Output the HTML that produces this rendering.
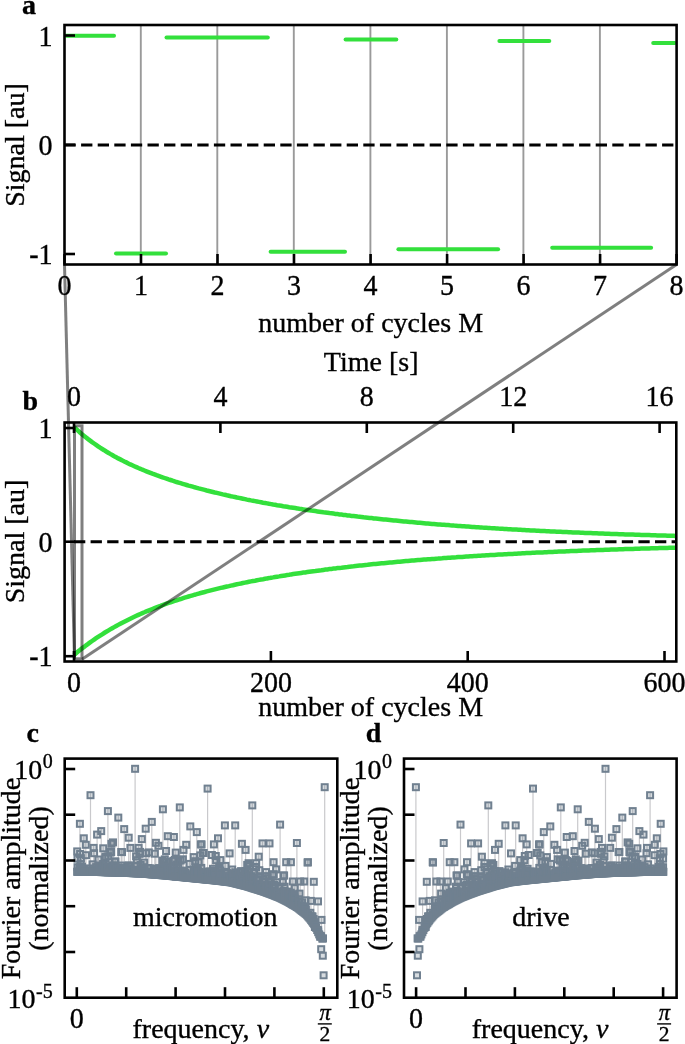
<!DOCTYPE html>
<html><head><meta charset="utf-8"><style>
html,body{margin:0;padding:0;background:#fff;overflow:hidden;width:685px;height:1044px;}
svg{display:block;font-family:"Liberation Serif", serif;will-change:transform;}
text{stroke:#000;stroke-width:0.35px;}
</style></head><body>
<svg width="685" height="1044" viewBox="0 0 685 1044">
<defs>
<clipPath id="clipb"><rect x="64.6" y="422.5" width="611.7" height="239.0"/></clipPath>
<rect id="mk" x="-3" y="-3" width="6" height="6" fill="#708090" fill-opacity="0.28" stroke="#708090" stroke-width="2"/>
</defs>
<rect width="685" height="1044" fill="#fff"/>
<line x1="140.8" y1="25.0" x2="140.8" y2="264.5" stroke="#9a9a9a" stroke-width="1.9" />
<line x1="217.3" y1="25.0" x2="217.3" y2="264.5" stroke="#9a9a9a" stroke-width="1.9" />
<line x1="293.8" y1="25.0" x2="293.8" y2="264.5" stroke="#9a9a9a" stroke-width="1.9" />
<line x1="370.4" y1="25.0" x2="370.4" y2="264.5" stroke="#9a9a9a" stroke-width="1.9" />
<line x1="446.9" y1="25.0" x2="446.9" y2="264.5" stroke="#9a9a9a" stroke-width="1.9" />
<line x1="523.4" y1="25.0" x2="523.4" y2="264.5" stroke="#9a9a9a" stroke-width="1.9" />
<line x1="599.9" y1="25.0" x2="599.9" y2="264.5" stroke="#9a9a9a" stroke-width="1.9" />
<line x1="66.3" y1="35.7" x2="114.0" y2="35.7" stroke="#33e03c" stroke-width="4" stroke-linecap="round"/>
<line x1="116.0" y1="253.4" x2="166.0" y2="253.4" stroke="#33e03c" stroke-width="4" stroke-linecap="round"/>
<line x1="166.5" y1="37.5" x2="267.8" y2="37.5" stroke="#33e03c" stroke-width="4" stroke-linecap="round"/>
<line x1="270.6" y1="251.8" x2="345.0" y2="251.8" stroke="#33e03c" stroke-width="4" stroke-linecap="round"/>
<line x1="345.6" y1="39.4" x2="396.3" y2="39.4" stroke="#33e03c" stroke-width="4" stroke-linecap="round"/>
<line x1="398.4" y1="249.3" x2="498.1" y2="249.3" stroke="#33e03c" stroke-width="4" stroke-linecap="round"/>
<line x1="499.4" y1="41.1" x2="549.3" y2="41.1" stroke="#33e03c" stroke-width="4" stroke-linecap="round"/>
<line x1="552.2" y1="247.8" x2="651.1" y2="247.8" stroke="#33e03c" stroke-width="4" stroke-linecap="round"/>
<line x1="653.2" y1="43.0" x2="674.8" y2="43.0" stroke="#33e03c" stroke-width="4" stroke-linecap="round"/>
<line x1="64.5" y1="144.9" x2="676.6" y2="144.9" stroke="#000" stroke-width="3" stroke-dasharray="11.3 5.3"/>
<line x1="64.5" y1="264.5" x2="64.5" y2="254.0" stroke="#000" stroke-width="2.6" />
<line x1="141.0" y1="264.5" x2="141.0" y2="254.0" stroke="#000" stroke-width="2.6" />
<line x1="217.5" y1="264.5" x2="217.5" y2="254.0" stroke="#000" stroke-width="2.6" />
<line x1="294.0" y1="264.5" x2="294.0" y2="254.0" stroke="#000" stroke-width="2.6" />
<line x1="370.6" y1="264.5" x2="370.6" y2="254.0" stroke="#000" stroke-width="2.6" />
<line x1="447.1" y1="264.5" x2="447.1" y2="254.0" stroke="#000" stroke-width="2.6" />
<line x1="523.6" y1="264.5" x2="523.6" y2="254.0" stroke="#000" stroke-width="2.6" />
<line x1="600.1" y1="264.5" x2="600.1" y2="254.0" stroke="#000" stroke-width="2.6" />
<line x1="676.6" y1="264.5" x2="676.6" y2="254.0" stroke="#000" stroke-width="2.6" />
<line x1="64.5" y1="35.5" x2="75.0" y2="35.5" stroke="#000" stroke-width="2.6" />
<line x1="64.5" y1="144.9" x2="75.0" y2="144.9" stroke="#000" stroke-width="2.6" />
<line x1="64.5" y1="254.0" x2="75.0" y2="254.0" stroke="#000" stroke-width="2.6" />
<rect x="64.5" y="25.0" width="612.1" height="239.5" fill="none" stroke="#000" stroke-width="2.6"/>
<text transform="translate(64.5,295.1) scale(1,1.04)" text-anchor="middle" font-size="28" >0</text>
<text transform="translate(141.0,295.1) scale(1,1.04)" text-anchor="middle" font-size="28" >1</text>
<text transform="translate(217.5,295.1) scale(1,1.04)" text-anchor="middle" font-size="28" >2</text>
<text transform="translate(294.0,295.1) scale(1,1.04)" text-anchor="middle" font-size="28" >3</text>
<text transform="translate(370.6,295.1) scale(1,1.04)" text-anchor="middle" font-size="28" >4</text>
<text transform="translate(447.1,295.1) scale(1,1.04)" text-anchor="middle" font-size="28" >5</text>
<text transform="translate(523.6,295.1) scale(1,1.04)" text-anchor="middle" font-size="28" >6</text>
<text transform="translate(600.1,295.1) scale(1,1.04)" text-anchor="middle" font-size="28" >7</text>
<text transform="translate(676.6,295.1) scale(1,1.04)" text-anchor="middle" font-size="28" >8</text>
<text transform="translate(52.5,45.5) scale(1,1.04)" text-anchor="end" font-size="28" >1</text>
<text transform="translate(52.5,154.9) scale(1,1.04)" text-anchor="end" font-size="28" >0</text>
<text transform="translate(52.5,264.0) scale(1,1.04)" text-anchor="end" font-size="28" >-1</text>
<text x="0.0" y="0.0" text-anchor="middle" font-size="28" transform="translate(24,145) rotate(-90)">Signal [au]</text>
<text x="370.7" y="332.0" text-anchor="middle" font-size="28" >number of cycles M</text>
<text x="22.0" y="13.5" text-anchor="start" font-size="28" font-weight="bold" >a</text>
<g clip-path="url(#clipb)">
<polyline points="74.0,427.1 76.0,428.9 78.0,430.7 80.0,432.5 82.0,434.2 84.1,435.9 86.1,437.5 88.1,439.1 90.1,440.6 92.1,442.1 94.1,443.5 96.1,444.9 98.1,446.3 100.1,447.7 102.2,449.0 104.2,450.2 106.2,451.5 108.2,452.7 110.2,453.9 112.2,455.0 114.2,456.2 116.2,457.3 118.2,458.4 120.3,459.4 122.3,460.4 124.3,461.5 126.3,462.4 128.3,463.4 130.3,464.4 132.3,465.3 134.3,466.2 136.4,467.1 138.4,468.0 140.4,468.8 142.4,469.7 144.4,470.5 146.4,471.3 148.4,472.1 150.4,472.9 152.4,473.7 154.5,474.4 156.5,475.2 158.5,475.9 160.5,476.6 162.5,477.3 164.5,478.0 166.5,478.7 168.5,479.4 170.5,480.0 172.6,480.7 174.6,481.3 176.6,482.0 178.6,482.6 180.6,483.2 182.6,483.8 184.6,484.4 186.6,485.0 188.6,485.6 190.7,486.1 192.7,486.7 194.7,487.3 196.7,487.8 198.7,488.4 200.7,488.9 202.7,489.4 204.7,489.9 206.7,490.5 208.8,491.0 210.8,491.5 212.8,492.0 214.8,492.5 216.8,492.9 218.8,493.4 220.8,493.9 222.8,494.4 224.8,494.8 226.9,495.3 228.9,495.7 230.9,496.2 232.9,496.6 234.9,497.0 236.9,497.5 238.9,497.9 240.9,498.3 242.9,498.7 245.0,499.1 247.0,499.6 249.0,500.0 251.0,500.4 253.0,500.7 255.0,501.1 257.0,501.5 259.0,501.9 261.1,502.3 263.1,502.7 265.1,503.0 267.1,503.4 269.1,503.8 271.1,504.1 273.1,504.5 275.1,504.8 277.1,505.2 279.2,505.5 281.2,505.8 283.2,506.2 285.2,506.5 287.2,506.8 289.2,507.2 291.2,507.5 293.2,507.8 295.2,508.1 297.3,508.4 299.3,508.8 301.3,509.1 303.3,509.4 305.3,509.7 307.3,510.0 309.3,510.3 311.3,510.6 313.3,510.8 315.4,511.1 317.4,511.4 319.4,511.7 321.4,512.0 323.4,512.3 325.4,512.5 327.4,512.8 329.4,513.1 331.4,513.3 333.5,513.6 335.5,513.9 337.5,514.1 339.5,514.4 341.5,514.6 343.5,514.9 345.5,515.1 347.5,515.4 349.5,515.6 351.6,515.9 353.6,516.1 355.6,516.3 357.6,516.6 359.6,516.8 361.6,517.0 363.6,517.3 365.6,517.5 367.6,517.7 369.7,517.9 371.7,518.1 373.7,518.4 375.7,518.6 377.7,518.8 379.7,519.0 381.7,519.2 383.7,519.4 385.8,519.6 387.8,519.8 389.8,520.0 391.8,520.2 393.8,520.4 395.8,520.6 397.8,520.8 399.8,521.0 401.8,521.2 403.9,521.4 405.9,521.6 407.9,521.8 409.9,522.0 411.9,522.1 413.9,522.3 415.9,522.5 417.9,522.7 419.9,522.8 422.0,523.0 424.0,523.2 426.0,523.4 428.0,523.5 430.0,523.7 432.0,523.9 434.0,524.0 436.0,524.2 438.0,524.4 440.1,524.5 442.1,524.7 444.1,524.8 446.1,525.0 448.1,525.1 450.1,525.3 452.1,525.4 454.1,525.6 456.1,525.7 458.2,525.9 460.2,526.0 462.2,526.2 464.2,526.3 466.2,526.5 468.2,526.6 470.2,526.7 472.2,526.9 474.2,527.0 476.3,527.2 478.3,527.3 480.3,527.4 482.3,527.6 484.3,527.7 486.3,527.8 488.3,527.9 490.3,528.1 492.3,528.2 494.4,528.3 496.4,528.4 498.4,528.6 500.4,528.7 502.4,528.8 504.4,528.9 506.4,529.0 508.4,529.2 510.5,529.3 512.5,529.4 514.5,529.5 516.5,529.6 518.5,529.7 520.5,529.8 522.5,529.9 524.5,530.0 526.5,530.2 528.6,530.3 530.6,530.4 532.6,530.5 534.6,530.6 536.6,530.7 538.6,530.8 540.6,530.9 542.6,531.0 544.6,531.1 546.7,531.2 548.7,531.3 550.7,531.4 552.7,531.5 554.7,531.6 556.7,531.7 558.7,531.7 560.7,531.8 562.7,531.9 564.8,532.0 566.8,532.1 568.8,532.2 570.8,532.3 572.8,532.4 574.8,532.5 576.8,532.5 578.8,532.6 580.8,532.7 582.9,532.8 584.9,532.9 586.9,533.0 588.9,533.0 590.9,533.1 592.9,533.2 594.9,533.3 596.9,533.3 598.9,533.4 601.0,533.5 603.0,533.6 605.0,533.7 607.0,533.7 609.0,533.8 611.0,533.9 613.0,533.9 615.0,534.0 617.0,534.1 619.1,534.2 621.1,534.2 623.1,534.3 625.1,534.4 627.1,534.4 629.1,534.5 631.1,534.6 633.1,534.6 635.2,534.7 637.2,534.8 639.2,534.8 641.2,534.9 643.2,535.0 645.2,535.0 647.2,535.1 649.2,535.1 651.2,535.2 653.3,535.3 655.3,535.3 657.3,535.4 659.3,535.4 661.3,535.5 663.3,535.5 665.3,535.6 667.3,535.7 669.3,535.7 671.4,535.8 673.4,535.8 675.4,535.9" fill="none" stroke="#33e03c" stroke-width="4.5"/>
<polyline points="74.0,655.0 76.0,653.3 78.0,651.6 80.0,650.0 82.0,648.4 84.1,646.9 86.1,645.3 88.1,643.9 90.1,642.4 92.1,641.0 94.1,639.6 96.1,638.2 98.1,636.9 100.1,635.6 102.2,634.3 104.2,633.0 106.2,631.8 108.2,630.6 110.2,629.4 112.2,628.2 114.2,627.1 116.2,626.0 118.2,624.9 120.3,623.8 122.3,622.7 124.3,621.7 126.3,620.7 128.3,619.7 130.3,618.7 132.3,617.7 134.3,616.8 136.4,615.8 138.4,614.9 140.4,614.0 142.4,613.1 144.4,612.3 146.4,611.4 148.4,610.6 150.4,609.8 152.4,609.0 154.5,608.2 156.5,607.4 158.5,606.6 160.5,605.9 162.5,605.1 164.5,604.4 166.5,603.7 168.5,603.0 170.5,602.3 172.6,601.6 174.6,600.9 176.6,600.3 178.6,599.6 180.6,599.0 182.6,598.3 184.6,597.7 186.6,597.1 188.6,596.5 190.7,595.9 192.7,595.3 194.7,594.7 196.7,594.2 198.7,593.6 200.7,593.0 202.7,592.5 204.7,592.0 206.7,591.4 208.8,590.9 210.8,590.4 212.8,589.9 214.8,589.4 216.8,588.9 218.8,588.4 220.8,587.9 222.8,587.5 224.8,587.0 226.9,586.5 228.9,586.1 230.9,585.6 232.9,585.2 234.9,584.7 236.9,584.3 238.9,583.9 240.9,583.5 242.9,583.0 245.0,582.6 247.0,582.2 249.0,581.8 251.0,581.4 253.0,581.0 255.0,580.7 257.0,580.3 259.0,579.9 261.1,579.5 263.1,579.2 265.1,578.8 267.1,578.4 269.1,578.1 271.1,577.7 273.1,577.4 275.1,577.0 277.1,576.7 279.2,576.4 281.2,576.0 283.2,575.7 285.2,575.4 287.2,575.1 289.2,574.8 291.2,574.4 293.2,574.1 295.2,573.8 297.3,573.5 299.3,573.2 301.3,572.9 303.3,572.6 305.3,572.4 307.3,572.1 309.3,571.8 311.3,571.5 313.3,571.2 315.4,571.0 317.4,570.7 319.4,570.4 321.4,570.2 323.4,569.9 325.4,569.6 327.4,569.4 329.4,569.1 331.4,568.9 333.5,568.6 335.5,568.4 337.5,568.1 339.5,567.9 341.5,567.7 343.5,567.4 345.5,567.2 347.5,567.0 349.5,566.7 351.6,566.5 353.6,566.3 355.6,566.0 357.6,565.8 359.6,565.6 361.6,565.4 363.6,565.2 365.6,565.0 367.6,564.8 369.7,564.5 371.7,564.3 373.7,564.1 375.7,563.9 377.7,563.7 379.7,563.5 381.7,563.3 383.7,563.2 385.8,563.0 387.8,562.8 389.8,562.6 391.8,562.4 393.8,562.2 395.8,562.0 397.8,561.8 399.8,561.7 401.8,561.5 403.9,561.3 405.9,561.1 407.9,561.0 409.9,560.8 411.9,560.6 413.9,560.5 415.9,560.3 417.9,560.1 419.9,560.0 422.0,559.8 424.0,559.6 426.0,559.5 428.0,559.3 430.0,559.2 432.0,559.0 434.0,558.9 436.0,558.7 438.0,558.6 440.1,558.4 442.1,558.3 444.1,558.1 446.1,558.0 448.1,557.8 450.1,557.7 452.1,557.5 454.1,557.4 456.1,557.3 458.2,557.1 460.2,557.0 462.2,556.9 464.2,556.7 466.2,556.6 468.2,556.5 470.2,556.3 472.2,556.2 474.2,556.1 476.3,556.0 478.3,555.8 480.3,555.7 482.3,555.6 484.3,555.5 486.3,555.3 488.3,555.2 490.3,555.1 492.3,555.0 494.4,554.9 496.4,554.7 498.4,554.6 500.4,554.5 502.4,554.4 504.4,554.3 506.4,554.2 508.4,554.1 510.5,554.0 512.5,553.9 514.5,553.8 516.5,553.7 518.5,553.5 520.5,553.4 522.5,553.3 524.5,553.2 526.5,553.1 528.6,553.0 530.6,552.9 532.6,552.8 534.6,552.7 536.6,552.6 538.6,552.6 540.6,552.5 542.6,552.4 544.6,552.3 546.7,552.2 548.7,552.1 550.7,552.0 552.7,551.9 554.7,551.8 556.7,551.7 558.7,551.6 560.7,551.6 562.7,551.5 564.8,551.4 566.8,551.3 568.8,551.2 570.8,551.1 572.8,551.0 574.8,551.0 576.8,550.9 578.8,550.8 580.8,550.7 582.9,550.6 584.9,550.6 586.9,550.5 588.9,550.4 590.9,550.3 592.9,550.3 594.9,550.2 596.9,550.1 598.9,550.0 601.0,550.0 603.0,549.9 605.0,549.8 607.0,549.8 609.0,549.7 611.0,549.6 613.0,549.5 615.0,549.5 617.0,549.4 619.1,549.3 621.1,549.3 623.1,549.2 625.1,549.1 627.1,549.1 629.1,549.0 631.1,549.0 633.1,548.9 635.2,548.8 637.2,548.8 639.2,548.7 641.2,548.6 643.2,548.6 645.2,548.5 647.2,548.5 649.2,548.4 651.2,548.3 653.3,548.3 655.3,548.2 657.3,548.2 659.3,548.1 661.3,548.1 663.3,548.0 665.3,548.0 667.3,547.9 669.3,547.8 671.4,547.8 673.4,547.7 675.4,547.7" fill="none" stroke="#33e03c" stroke-width="4.5"/>
</g>
<line x1="74.0" y1="541.7" x2="676.3" y2="541.7" stroke="#000" stroke-width="3" stroke-dasharray="11.3 5.3"/>
<line x1="74.0" y1="422.5" x2="74.0" y2="433.0" stroke="#000" stroke-width="2.6" />
<line x1="220.4" y1="422.5" x2="220.4" y2="433.0" stroke="#000" stroke-width="2.6" />
<line x1="366.8" y1="422.5" x2="366.8" y2="433.0" stroke="#000" stroke-width="2.6" />
<line x1="513.2" y1="422.5" x2="513.2" y2="433.0" stroke="#000" stroke-width="2.6" />
<line x1="659.6" y1="422.5" x2="659.6" y2="433.0" stroke="#000" stroke-width="2.6" />
<line x1="74.0" y1="661.5" x2="74.0" y2="651.0" stroke="#000" stroke-width="2.6" />
<line x1="270.9" y1="661.5" x2="270.9" y2="651.0" stroke="#000" stroke-width="2.6" />
<line x1="467.7" y1="661.5" x2="467.7" y2="651.0" stroke="#000" stroke-width="2.6" />
<line x1="664.5" y1="661.5" x2="664.5" y2="651.0" stroke="#000" stroke-width="2.6" />
<line x1="64.6" y1="428.0" x2="75.1" y2="428.0" stroke="#000" stroke-width="2.6" />
<line x1="64.6" y1="541.7" x2="75.1" y2="541.7" stroke="#000" stroke-width="2.6" />
<line x1="64.6" y1="656.2" x2="75.1" y2="656.2" stroke="#000" stroke-width="2.6" />
<rect x="64.6" y="422.5" width="611.7" height="239.0" fill="none" stroke="#000" stroke-width="2.6"/>
<rect x="74.5" y="425.8" width="7.5" height="233" fill="none" stroke="#000" stroke-opacity="0.5" stroke-width="3"/>
<line x1="64.5" y1="264.5" x2="74.5" y2="659.3" stroke="#000" stroke-width="3" stroke-opacity="0.5"/>
<line x1="676.6" y1="264.5" x2="82.0" y2="659.3" stroke="#000" stroke-width="3" stroke-opacity="0.5"/>
<text transform="translate(74.0,405.8) scale(1,1.04)" text-anchor="middle" font-size="28" >0</text>
<text transform="translate(220.4,405.8) scale(1,1.04)" text-anchor="middle" font-size="28" >4</text>
<text transform="translate(366.8,405.8) scale(1,1.04)" text-anchor="middle" font-size="28" >8</text>
<text transform="translate(513.2,405.8) scale(1,1.04)" text-anchor="middle" font-size="28" >12</text>
<text transform="translate(659.6,405.8) scale(1,1.04)" text-anchor="middle" font-size="28" >16</text>
<text transform="translate(74.0,692.3) scale(1,1.04)" text-anchor="middle" font-size="28" >0</text>
<text transform="translate(270.9,692.3) scale(1,1.04)" text-anchor="middle" font-size="28" >200</text>
<text transform="translate(467.7,692.3) scale(1,1.04)" text-anchor="middle" font-size="28" >400</text>
<text transform="translate(664.5,692.3) scale(1,1.04)" text-anchor="middle" font-size="28" >600</text>
<text transform="translate(52.5,438.0) scale(1,1.04)" text-anchor="end" font-size="28" >1</text>
<text transform="translate(52.5,551.7) scale(1,1.04)" text-anchor="end" font-size="28" >0</text>
<text transform="translate(52.5,666.2) scale(1,1.04)" text-anchor="end" font-size="28" >-1</text>
<text x="0.0" y="0.0" text-anchor="middle" font-size="28" transform="translate(24,541.5) rotate(-90)">Signal [au]</text>
<text x="370.7" y="716.3" text-anchor="middle" font-size="28" >number of cycles M</text>
<text x="371.2" y="370.8" text-anchor="middle" font-size="28" >Time [s]</text>
<text x="22.5" y="410.1" text-anchor="start" font-size="28" font-weight="bold" >b</text>
<path d="M77.2 849.4V872.0M77.5 856.7V872.0M79.9 821.8V872.0M80.1 852.0V872.0M80.7 862.3V872.0M80.9 856.2V872.0M83.8 836.3V872.0M85.8 842.8V872.0M86.0 853.2V872.0M90.5 793.2V872.0M92.5 862.3V872.0M93.6 845.9V872.1M94.1 851.2V872.1M97.1 832.6V872.2M98.4 857.5V872.2M101.2 829.1V872.3M102.7 864.2V872.3M103.1 862.0V872.3M103.2 846.3V872.4M105.3 864.1V872.4M105.4 854.8V872.4M105.6 856.2V872.4M107.9 809.1V872.5M108.2 854.2V872.5M110.5 850.3V872.6M110.6 850.3V872.6M111.2 850.0V872.6M111.4 841.8V872.6M112.9 863.5V872.6M113.0 840.4V872.6M113.1 863.6V872.6M113.4 864.3V872.6M114.9 859.6V872.7M115.5 859.5V872.7M118.3 815.6V872.8M121.2 863.5V872.9M121.2 850.0V872.9M122.0 850.1V873.0M124.2 827.1V873.0M128.7 835.7V873.2M128.9 863.3V873.2M129.3 864.3V873.3M130.4 845.9V873.3M135.1 766.8V873.5M136.1 854.3V873.5M136.7 864.1V873.5M136.9 858.2V873.6M138.6 845.9V873.6M139.5 851.8V873.7M140.1 849.9V873.7M140.6 862.9V873.7M141.8 837.1V873.8M143.1 865.2V873.9M144.2 860.6V874.0M145.7 826.7V874.1M146.2 851.3V874.2M148.6 866.0V874.4M148.8 850.4V874.4M151.8 819.9V874.6M154.8 851.7V874.9M155.9 840.8V874.9M156.9 866.6V875.0M158.4 843.8V875.1M159.2 866.1V875.2M162.4 858.6V875.5M162.9 807.3V875.5M163.8 859.8V875.6M164.8 857.4V875.7M166.1 849.0V875.8M166.2 859.9V875.8M167.0 864.8V875.9M167.2 867.1V875.9M167.8 834.2V876.0M170.4 866.1V876.2M173.0 866.0V876.5M173.3 858.9V876.5M173.9 835.0V876.6M174.2 864.6V876.6M174.6 868.5V876.6M174.8 858.0V876.7M175.7 850.6V876.7M176.5 862.7V876.8M178.3 866.1V877.0M178.4 858.7V877.0M179.8 805.4V877.2M180.7 858.5V877.3M182.8 868.6V877.5M182.9 857.3V877.5M183.1 869.1V877.5M183.5 847.9V877.5M186.2 842.8V877.8M189.6 861.9V878.2M190.3 824.4V878.2M190.3 868.1V878.2M193.7 855.1V878.6M194.0 867.6V878.6M194.1 868.4V878.6M194.7 868.7V878.7M195.2 859.2V878.7M195.5 870.0V878.7M196.8 830.1V878.9M197.4 867.2V878.9M197.4 866.8V878.9M197.9 869.3V879.0M197.9 869.7V879.0M198.7 860.5V879.1M198.8 870.7V879.1M199.5 870.0V879.1M200.3 853.4V879.2M200.9 842.4V879.3M201.3 865.9V879.3M201.6 842.4V879.4M202.9 851.0V879.5M203.1 870.6V879.5M203.7 851.0V879.6M204.7 871.3V879.7M207.6 786.6V880.0M208.2 869.5V880.0M208.4 870.3V880.0M210.1 869.6V880.2M210.6 870.4V880.3M211.9 853.0V880.4M212.4 870.3V880.5M213.0 866.8V880.5M213.9 842.4V880.6M214.0 868.9V880.6M214.3 871.6V880.6M214.4 871.1V880.7M214.9 869.0V880.7M215.8 854.0V880.8M216.1 858.2V880.8M218.0 836.3V881.1M219.1 868.0V881.2M219.2 866.0V881.2M220.3 868.6V881.3M220.4 858.1V881.4M220.6 870.3V881.4M221.0 873.3V881.4M224.9 823.4V881.9M225.2 870.3V881.9M225.5 863.9V882.0M226.6 871.1V882.1M227.1 871.3V882.2M229.3 874.3V882.4M229.6 851.4V882.5M232.2 867.5V883.1M232.9 873.2V883.2M233.2 871.6V883.3M235.2 823.4V883.8M235.3 870.3V883.8M236.2 871.6V884.0M237.5 873.6V884.4M237.6 873.3V884.4M238.9 870.8V884.7M239.0 876.0V884.8M239.7 875.2V884.9M240.4 874.6V885.1M241.1 869.1V885.3M241.9 841.8V885.5M243.0 876.9V885.7M244.5 871.6V886.1M245.6 847.9V886.4M245.8 869.1V886.4M247.2 862.9V886.9M247.2 875.1V886.9M248.6 861.2V887.3M248.8 873.2V887.4M248.9 870.3V887.4M249.3 876.6V887.5M249.4 864.1V887.6M249.6 874.6V887.6M251.1 874.2V888.1M252.3 803.4V888.5M252.9 879.4V888.7M253.3 876.9V888.8M253.8 869.8V888.9M254.2 870.9V889.1M256.0 865.0V889.6M256.2 861.2V889.7M257.1 878.0V890.0M257.9 878.4V890.2M258.6 877.3V890.4M258.7 854.7V890.5M259.3 868.2V890.6M259.3 875.7V890.7M262.5 841.4V891.7M263.8 877.9V892.1M264.7 879.7V892.5M265.6 874.1V892.8M265.7 882.5V892.9M266.0 870.1V893.0M266.8 885.2V893.2M268.8 879.7V894.0M269.1 880.5V894.1M269.5 841.4V894.2M272.7 872.8V895.5M272.7 882.7V895.5M273.6 860.2V895.8M273.8 872.2V895.9M274.2 882.8V896.1M274.9 884.0V896.3M276.1 867.4V896.8M276.8 880.2V897.1M279.5 884.9V898.3M280.1 822.6V898.6M282.5 889.5V899.8M282.8 880.2V899.9M283.5 873.5V900.3M283.8 889.5V900.4M284.1 873.5V900.6M284.3 889.0V900.7M284.6 884.7V900.8M285.0 891.6V901.0M286.2 860.2V901.6M286.3 891.0V901.7M286.5 890.1V901.8M288.4 889.6V902.9M289.6 892.2V903.5M290.8 890.7V904.3M290.9 860.2V904.3M291.4 895.2V904.6M292.4 894.0V905.2M292.8 879.5V905.4M292.9 894.1V905.5M294.6 895.5V906.5M294.8 886.2V906.6M294.8 894.0V906.6M296.9 841.0V908.0M298.8 899.4V909.4M298.9 897.4V909.6M299.2 900.2V909.8M299.5 891.6V910.0M300.2 879.5V910.5M301.8 903.6V911.8M302.1 900.5V912.0M304.2 879.5V913.7M304.3 905.3V913.7M305.6 898.3V915.0M305.6 905.4V915.0M307.6 860.5V917.3M307.9 860.2V917.6M310.3 910.8V920.6M310.9 898.9V921.4M312.3 914.3V923.4M312.4 914.7V923.6M313.6 917.0V925.2M313.8 879.8V925.5M318.0 899.4V934.6M321.5 917.9V941.0M324.7 785.2V941.0" stroke="#c9c9cc" stroke-width="1.2" fill="none"/>
<use href="#mk" x="77.2" y="851.4"/><use href="#mk" x="77.2" y="871.8"/><use href="#mk" x="77.5" y="867.2"/><use href="#mk" x="77.5" y="858.7"/><use href="#mk" x="77.6" y="871.8"/><use href="#mk" x="78.2" y="871.8"/><use href="#mk" x="79.2" y="871.8"/><use href="#mk" x="79.4" y="868.2"/><use href="#mk" x="79.9" y="823.8"/><use href="#mk" x="80.1" y="854.0"/><use href="#mk" x="80.2" y="866.8"/><use href="#mk" x="80.2" y="870.3"/><use href="#mk" x="80.2" y="871.8"/><use href="#mk" x="80.7" y="864.3"/><use href="#mk" x="80.9" y="858.2"/><use href="#mk" x="81.2" y="871.8"/><use href="#mk" x="82.0" y="866.7"/><use href="#mk" x="82.2" y="871.8"/><use href="#mk" x="82.4" y="870.9"/><use href="#mk" x="83.2" y="871.8"/><use href="#mk" x="83.8" y="869.4"/><use href="#mk" x="83.8" y="838.3"/><use href="#mk" x="84.2" y="871.8"/><use href="#mk" x="84.6" y="871.6"/><use href="#mk" x="85.2" y="871.8"/><use href="#mk" x="85.8" y="844.8"/><use href="#mk" x="86.0" y="855.2"/><use href="#mk" x="86.2" y="871.8"/><use href="#mk" x="87.2" y="871.8"/><use href="#mk" x="88.2" y="871.8"/><use href="#mk" x="89.2" y="871.8"/><use href="#mk" x="89.8" y="868.4"/><use href="#mk" x="90.1" y="870.6"/><use href="#mk" x="90.2" y="871.8"/><use href="#mk" x="90.4" y="870.4"/><use href="#mk" x="90.5" y="795.2"/><use href="#mk" x="91.2" y="871.8"/><use href="#mk" x="92.2" y="871.8"/><use href="#mk" x="92.5" y="864.3"/><use href="#mk" x="92.8" y="871.4"/><use href="#mk" x="92.9" y="871.6"/><use href="#mk" x="93.2" y="871.8"/><use href="#mk" x="93.6" y="847.9"/><use href="#mk" x="94.1" y="853.2"/><use href="#mk" x="94.2" y="871.9"/><use href="#mk" x="95.2" y="871.9"/><use href="#mk" x="96.2" y="867.1"/><use href="#mk" x="96.2" y="871.9"/><use href="#mk" x="97.1" y="834.6"/><use href="#mk" x="97.2" y="871.9"/><use href="#mk" x="97.9" y="869.9"/><use href="#mk" x="98.1" y="868.3"/><use href="#mk" x="98.2" y="872.0"/><use href="#mk" x="98.4" y="859.5"/><use href="#mk" x="98.7" y="867.0"/><use href="#mk" x="99.2" y="872.0"/><use href="#mk" x="99.3" y="870.4"/><use href="#mk" x="99.9" y="868.2"/><use href="#mk" x="100.1" y="872.0"/><use href="#mk" x="100.2" y="872.0"/><use href="#mk" x="101.2" y="831.1"/><use href="#mk" x="101.2" y="872.1"/><use href="#mk" x="102.1" y="867.1"/><use href="#mk" x="102.2" y="872.1"/><use href="#mk" x="102.7" y="866.2"/><use href="#mk" x="103.1" y="864.0"/><use href="#mk" x="103.2" y="848.3"/><use href="#mk" x="103.2" y="872.1"/><use href="#mk" x="104.2" y="872.1"/><use href="#mk" x="104.9" y="869.4"/><use href="#mk" x="105.2" y="872.2"/><use href="#mk" x="105.3" y="866.1"/><use href="#mk" x="105.4" y="856.8"/><use href="#mk" x="105.6" y="858.2"/><use href="#mk" x="106.2" y="872.2"/><use href="#mk" x="107.2" y="872.2"/><use href="#mk" x="107.8" y="870.2"/><use href="#mk" x="107.9" y="811.1"/><use href="#mk" x="107.9" y="867.5"/><use href="#mk" x="108.1" y="872.1"/><use href="#mk" x="108.2" y="872.3"/><use href="#mk" x="108.2" y="856.2"/><use href="#mk" x="109.2" y="872.3"/><use href="#mk" x="110.0" y="871.8"/><use href="#mk" x="110.2" y="872.3"/><use href="#mk" x="110.3" y="869.5"/><use href="#mk" x="110.3" y="868.6"/><use href="#mk" x="110.5" y="852.3"/><use href="#mk" x="110.6" y="852.3"/><use href="#mk" x="111.2" y="867.7"/><use href="#mk" x="111.2" y="852.0"/><use href="#mk" x="111.2" y="872.3"/><use href="#mk" x="111.4" y="843.8"/><use href="#mk" x="112.2" y="872.4"/><use href="#mk" x="112.2" y="870.2"/><use href="#mk" x="112.9" y="865.5"/><use href="#mk" x="113.0" y="842.4"/><use href="#mk" x="113.1" y="865.6"/><use href="#mk" x="113.2" y="872.4"/><use href="#mk" x="113.4" y="866.3"/><use href="#mk" x="114.2" y="872.4"/><use href="#mk" x="114.9" y="861.6"/><use href="#mk" x="115.2" y="872.5"/><use href="#mk" x="115.5" y="861.5"/><use href="#mk" x="116.1" y="870.8"/><use href="#mk" x="116.2" y="872.5"/><use href="#mk" x="116.2" y="871.6"/><use href="#mk" x="116.6" y="868.7"/><use href="#mk" x="117.2" y="872.5"/><use href="#mk" x="118.2" y="871.6"/><use href="#mk" x="118.2" y="872.6"/><use href="#mk" x="118.3" y="817.6"/><use href="#mk" x="118.4" y="867.4"/><use href="#mk" x="118.4" y="868.6"/><use href="#mk" x="119.2" y="872.6"/><use href="#mk" x="119.6" y="872.3"/><use href="#mk" x="120.2" y="872.6"/><use href="#mk" x="121.2" y="865.5"/><use href="#mk" x="121.2" y="852.0"/><use href="#mk" x="121.2" y="872.7"/><use href="#mk" x="122.0" y="852.1"/><use href="#mk" x="122.2" y="872.7"/><use href="#mk" x="122.9" y="869.2"/><use href="#mk" x="123.2" y="872.8"/><use href="#mk" x="123.6" y="869.2"/><use href="#mk" x="124.2" y="829.1"/><use href="#mk" x="124.2" y="872.8"/><use href="#mk" x="124.4" y="871.9"/><use href="#mk" x="125.1" y="872.3"/><use href="#mk" x="125.2" y="872.8"/><use href="#mk" x="125.3" y="868.3"/><use href="#mk" x="125.5" y="868.1"/><use href="#mk" x="125.6" y="871.4"/><use href="#mk" x="126.0" y="868.9"/><use href="#mk" x="126.2" y="872.9"/><use href="#mk" x="127.2" y="872.9"/><use href="#mk" x="127.2" y="871.3"/><use href="#mk" x="127.4" y="868.4"/><use href="#mk" x="127.7" y="872.6"/><use href="#mk" x="128.2" y="873.0"/><use href="#mk" x="128.3" y="871.3"/><use href="#mk" x="128.7" y="837.7"/><use href="#mk" x="128.9" y="865.3"/><use href="#mk" x="129.0" y="872.8"/><use href="#mk" x="129.2" y="873.0"/><use href="#mk" x="129.3" y="866.3"/><use href="#mk" x="129.3" y="872.3"/><use href="#mk" x="130.2" y="873.0"/><use href="#mk" x="130.4" y="847.9"/><use href="#mk" x="130.5" y="868.5"/><use href="#mk" x="131.2" y="873.1"/><use href="#mk" x="132.1" y="872.8"/><use href="#mk" x="132.2" y="873.1"/><use href="#mk" x="133.2" y="873.2"/><use href="#mk" x="134.2" y="873.2"/><use href="#mk" x="134.9" y="869.8"/><use href="#mk" x="134.9" y="870.5"/><use href="#mk" x="134.9" y="871.4"/><use href="#mk" x="135.1" y="768.8"/><use href="#mk" x="135.2" y="873.2"/><use href="#mk" x="136.1" y="856.3"/><use href="#mk" x="136.2" y="873.3"/><use href="#mk" x="136.7" y="866.1"/><use href="#mk" x="136.9" y="860.2"/><use href="#mk" x="137.2" y="873.3"/><use href="#mk" x="138.2" y="873.4"/><use href="#mk" x="138.6" y="847.9"/><use href="#mk" x="139.1" y="872.5"/><use href="#mk" x="139.2" y="873.4"/><use href="#mk" x="139.5" y="853.8"/><use href="#mk" x="140.1" y="851.9"/><use href="#mk" x="140.2" y="873.4"/><use href="#mk" x="140.6" y="864.9"/><use href="#mk" x="141.0" y="869.5"/><use href="#mk" x="141.2" y="873.5"/><use href="#mk" x="141.8" y="839.1"/><use href="#mk" x="141.8" y="871.4"/><use href="#mk" x="142.1" y="868.3"/><use href="#mk" x="142.2" y="873.5"/><use href="#mk" x="143.1" y="867.2"/><use href="#mk" x="143.2" y="873.6"/><use href="#mk" x="144.2" y="873.7"/><use href="#mk" x="144.2" y="862.6"/><use href="#mk" x="144.3" y="869.7"/><use href="#mk" x="145.2" y="873.8"/><use href="#mk" x="145.4" y="873.4"/><use href="#mk" x="145.5" y="871.7"/><use href="#mk" x="145.7" y="828.7"/><use href="#mk" x="146.2" y="853.3"/><use href="#mk" x="146.2" y="873.9"/><use href="#mk" x="146.5" y="873.5"/><use href="#mk" x="147.2" y="873.9"/><use href="#mk" x="148.2" y="874.0"/><use href="#mk" x="148.4" y="873.5"/><use href="#mk" x="148.6" y="868.0"/><use href="#mk" x="148.8" y="852.4"/><use href="#mk" x="149.2" y="874.1"/><use href="#mk" x="149.5" y="873.7"/><use href="#mk" x="149.9" y="871.6"/><use href="#mk" x="150.0" y="868.5"/><use href="#mk" x="150.2" y="874.2"/><use href="#mk" x="151.2" y="874.3"/><use href="#mk" x="151.8" y="821.9"/><use href="#mk" x="152.2" y="874.4"/><use href="#mk" x="152.4" y="873.9"/><use href="#mk" x="153.2" y="874.4"/><use href="#mk" x="153.7" y="869.1"/><use href="#mk" x="154.2" y="874.5"/><use href="#mk" x="154.7" y="872.8"/><use href="#mk" x="154.8" y="853.7"/><use href="#mk" x="155.2" y="874.6"/><use href="#mk" x="155.9" y="842.8"/><use href="#mk" x="156.2" y="873.7"/><use href="#mk" x="156.2" y="874.7"/><use href="#mk" x="156.9" y="868.6"/><use href="#mk" x="157.2" y="874.8"/><use href="#mk" x="158.2" y="874.8"/><use href="#mk" x="158.4" y="869.9"/><use href="#mk" x="158.4" y="845.8"/><use href="#mk" x="159.2" y="874.9"/><use href="#mk" x="159.2" y="868.1"/><use href="#mk" x="160.0" y="871.7"/><use href="#mk" x="160.2" y="871.7"/><use href="#mk" x="160.2" y="875.0"/><use href="#mk" x="160.8" y="871.8"/><use href="#mk" x="161.2" y="875.1"/><use href="#mk" x="162.0" y="873.8"/><use href="#mk" x="162.2" y="875.2"/><use href="#mk" x="162.3" y="873.2"/><use href="#mk" x="162.4" y="860.6"/><use href="#mk" x="162.9" y="809.3"/><use href="#mk" x="163.2" y="875.2"/><use href="#mk" x="163.3" y="875.1"/><use href="#mk" x="163.8" y="861.8"/><use href="#mk" x="164.1" y="874.8"/><use href="#mk" x="164.2" y="875.3"/><use href="#mk" x="164.8" y="859.4"/><use href="#mk" x="165.2" y="875.4"/><use href="#mk" x="166.1" y="851.0"/><use href="#mk" x="166.2" y="861.9"/><use href="#mk" x="166.2" y="875.5"/><use href="#mk" x="167.0" y="866.8"/><use href="#mk" x="167.2" y="875.6"/><use href="#mk" x="167.2" y="869.1"/><use href="#mk" x="167.8" y="836.2"/><use href="#mk" x="167.9" y="870.7"/><use href="#mk" x="168.2" y="875.7"/><use href="#mk" x="168.4" y="872.0"/><use href="#mk" x="169.2" y="875.8"/><use href="#mk" x="170.0" y="872.8"/><use href="#mk" x="170.2" y="875.9"/><use href="#mk" x="170.4" y="868.1"/><use href="#mk" x="170.7" y="873.4"/><use href="#mk" x="171.2" y="876.0"/><use href="#mk" x="172.0" y="872.4"/><use href="#mk" x="172.2" y="876.1"/><use href="#mk" x="172.2" y="872.3"/><use href="#mk" x="172.5" y="873.1"/><use href="#mk" x="172.6" y="873.1"/><use href="#mk" x="173.0" y="868.0"/><use href="#mk" x="173.2" y="873.7"/><use href="#mk" x="173.2" y="876.2"/><use href="#mk" x="173.2" y="873.0"/><use href="#mk" x="173.3" y="860.9"/><use href="#mk" x="173.9" y="837.0"/><use href="#mk" x="174.2" y="876.3"/><use href="#mk" x="174.2" y="866.6"/><use href="#mk" x="174.6" y="870.5"/><use href="#mk" x="174.8" y="860.0"/><use href="#mk" x="175.0" y="873.1"/><use href="#mk" x="175.2" y="876.4"/><use href="#mk" x="175.7" y="852.6"/><use href="#mk" x="175.8" y="871.8"/><use href="#mk" x="176.0" y="876.4"/><use href="#mk" x="176.2" y="876.5"/><use href="#mk" x="176.5" y="864.7"/><use href="#mk" x="177.2" y="876.6"/><use href="#mk" x="178.2" y="876.7"/><use href="#mk" x="178.3" y="868.1"/><use href="#mk" x="178.4" y="860.7"/><use href="#mk" x="178.4" y="871.4"/><use href="#mk" x="178.5" y="874.2"/><use href="#mk" x="179.2" y="876.8"/><use href="#mk" x="179.8" y="807.4"/><use href="#mk" x="180.2" y="876.9"/><use href="#mk" x="180.7" y="860.5"/><use href="#mk" x="181.2" y="877.0"/><use href="#mk" x="181.7" y="875.9"/><use href="#mk" x="182.2" y="873.1"/><use href="#mk" x="182.2" y="877.1"/><use href="#mk" x="182.8" y="870.6"/><use href="#mk" x="182.9" y="859.3"/><use href="#mk" x="183.1" y="873.7"/><use href="#mk" x="183.1" y="871.1"/><use href="#mk" x="183.2" y="877.2"/><use href="#mk" x="183.4" y="875.5"/><use href="#mk" x="183.5" y="849.9"/><use href="#mk" x="184.2" y="877.3"/><use href="#mk" x="185.1" y="874.1"/><use href="#mk" x="185.2" y="877.4"/><use href="#mk" x="185.4" y="872.7"/><use href="#mk" x="186.2" y="844.8"/><use href="#mk" x="186.2" y="877.5"/><use href="#mk" x="187.2" y="877.3"/><use href="#mk" x="187.2" y="877.6"/><use href="#mk" x="188.2" y="877.7"/><use href="#mk" x="189.2" y="877.8"/><use href="#mk" x="189.6" y="863.9"/><use href="#mk" x="190.2" y="877.9"/><use href="#mk" x="190.3" y="826.4"/><use href="#mk" x="190.3" y="870.1"/><use href="#mk" x="191.2" y="878.0"/><use href="#mk" x="192.1" y="874.2"/><use href="#mk" x="192.2" y="878.1"/><use href="#mk" x="193.2" y="878.2"/><use href="#mk" x="193.7" y="857.1"/><use href="#mk" x="194.0" y="869.6"/><use href="#mk" x="194.1" y="870.4"/><use href="#mk" x="194.2" y="878.3"/><use href="#mk" x="194.3" y="874.5"/><use href="#mk" x="194.4" y="874.7"/><use href="#mk" x="194.4" y="873.5"/><use href="#mk" x="194.7" y="870.7"/><use href="#mk" x="195.2" y="878.4"/><use href="#mk" x="195.2" y="861.2"/><use href="#mk" x="195.5" y="872.0"/><use href="#mk" x="196.0" y="877.0"/><use href="#mk" x="196.2" y="878.5"/><use href="#mk" x="196.8" y="832.1"/><use href="#mk" x="197.2" y="878.6"/><use href="#mk" x="197.4" y="869.2"/><use href="#mk" x="197.4" y="868.8"/><use href="#mk" x="197.9" y="871.3"/><use href="#mk" x="197.9" y="871.7"/><use href="#mk" x="198.2" y="878.7"/><use href="#mk" x="198.7" y="862.5"/><use href="#mk" x="198.8" y="872.7"/><use href="#mk" x="199.2" y="878.8"/><use href="#mk" x="199.5" y="872.0"/><use href="#mk" x="200.2" y="878.9"/><use href="#mk" x="200.3" y="855.4"/><use href="#mk" x="200.9" y="844.4"/><use href="#mk" x="201.2" y="879.0"/><use href="#mk" x="201.3" y="867.9"/><use href="#mk" x="201.5" y="876.2"/><use href="#mk" x="201.6" y="844.4"/><use href="#mk" x="201.9" y="873.7"/><use href="#mk" x="202.2" y="875.2"/><use href="#mk" x="202.2" y="879.1"/><use href="#mk" x="202.9" y="853.0"/><use href="#mk" x="203.1" y="872.6"/><use href="#mk" x="203.2" y="874.5"/><use href="#mk" x="203.2" y="879.2"/><use href="#mk" x="203.7" y="853.0"/><use href="#mk" x="204.0" y="878.4"/><use href="#mk" x="204.2" y="879.3"/><use href="#mk" x="204.7" y="873.3"/><use href="#mk" x="205.2" y="879.4"/><use href="#mk" x="205.9" y="877.9"/><use href="#mk" x="206.2" y="879.5"/><use href="#mk" x="207.2" y="879.6"/><use href="#mk" x="207.6" y="788.6"/><use href="#mk" x="207.9" y="876.9"/><use href="#mk" x="208.0" y="875.8"/><use href="#mk" x="208.1" y="875.5"/><use href="#mk" x="208.2" y="871.5"/><use href="#mk" x="208.2" y="879.7"/><use href="#mk" x="208.4" y="872.3"/><use href="#mk" x="209.2" y="879.8"/><use href="#mk" x="209.5" y="877.9"/><use href="#mk" x="210.1" y="871.6"/><use href="#mk" x="210.2" y="879.9"/><use href="#mk" x="210.5" y="876.3"/><use href="#mk" x="210.6" y="872.4"/><use href="#mk" x="211.2" y="880.0"/><use href="#mk" x="211.9" y="855.0"/><use href="#mk" x="212.2" y="880.1"/><use href="#mk" x="212.4" y="872.3"/><use href="#mk" x="213.0" y="868.8"/><use href="#mk" x="213.2" y="880.2"/><use href="#mk" x="213.9" y="844.4"/><use href="#mk" x="214.0" y="876.3"/><use href="#mk" x="214.0" y="870.9"/><use href="#mk" x="214.2" y="875.8"/><use href="#mk" x="214.2" y="880.3"/><use href="#mk" x="214.3" y="873.6"/><use href="#mk" x="214.3" y="879.7"/><use href="#mk" x="214.4" y="873.1"/><use href="#mk" x="214.9" y="871.0"/><use href="#mk" x="215.2" y="880.4"/><use href="#mk" x="215.4" y="875.4"/><use href="#mk" x="215.8" y="856.0"/><use href="#mk" x="216.1" y="860.2"/><use href="#mk" x="216.2" y="880.5"/><use href="#mk" x="216.5" y="875.7"/><use href="#mk" x="217.2" y="880.6"/><use href="#mk" x="218.0" y="877.4"/><use href="#mk" x="218.0" y="838.3"/><use href="#mk" x="218.2" y="880.8"/><use href="#mk" x="219.1" y="870.0"/><use href="#mk" x="219.2" y="878.9"/><use href="#mk" x="219.2" y="880.9"/><use href="#mk" x="219.2" y="868.0"/><use href="#mk" x="219.9" y="879.3"/><use href="#mk" x="220.2" y="881.0"/><use href="#mk" x="220.3" y="870.6"/><use href="#mk" x="220.4" y="860.1"/><use href="#mk" x="220.6" y="872.3"/><use href="#mk" x="221.0" y="875.3"/><use href="#mk" x="221.2" y="881.1"/><use href="#mk" x="222.2" y="881.2"/><use href="#mk" x="223.2" y="881.3"/><use href="#mk" x="223.5" y="876.5"/><use href="#mk" x="224.2" y="881.5"/><use href="#mk" x="224.9" y="825.4"/><use href="#mk" x="225.2" y="872.3"/><use href="#mk" x="225.2" y="881.6"/><use href="#mk" x="225.5" y="865.9"/><use href="#mk" x="225.8" y="881.0"/><use href="#mk" x="226.2" y="881.7"/><use href="#mk" x="226.6" y="873.1"/><use href="#mk" x="227.1" y="873.3"/><use href="#mk" x="227.2" y="881.8"/><use href="#mk" x="227.4" y="876.4"/><use href="#mk" x="228.0" y="881.4"/><use href="#mk" x="228.2" y="881.9"/><use href="#mk" x="229.2" y="882.1"/><use href="#mk" x="229.3" y="876.3"/><use href="#mk" x="229.5" y="881.6"/><use href="#mk" x="229.6" y="853.4"/><use href="#mk" x="230.2" y="882.2"/><use href="#mk" x="230.8" y="879.4"/><use href="#mk" x="231.2" y="882.3"/><use href="#mk" x="232.2" y="882.5"/><use href="#mk" x="232.2" y="869.5"/><use href="#mk" x="232.4" y="880.3"/><use href="#mk" x="232.9" y="875.2"/><use href="#mk" x="233.2" y="882.8"/><use href="#mk" x="233.2" y="873.6"/><use href="#mk" x="234.1" y="881.7"/><use href="#mk" x="234.2" y="883.0"/><use href="#mk" x="235.2" y="825.4"/><use href="#mk" x="235.2" y="883.3"/><use href="#mk" x="235.3" y="872.3"/><use href="#mk" x="236.2" y="873.6"/><use href="#mk" x="236.2" y="883.5"/><use href="#mk" x="237.2" y="883.8"/><use href="#mk" x="237.5" y="875.6"/><use href="#mk" x="237.6" y="875.3"/><use href="#mk" x="238.0" y="882.3"/><use href="#mk" x="238.1" y="881.9"/><use href="#mk" x="238.2" y="884.0"/><use href="#mk" x="238.2" y="881.4"/><use href="#mk" x="238.9" y="872.8"/><use href="#mk" x="239.0" y="878.0"/><use href="#mk" x="239.2" y="884.3"/><use href="#mk" x="239.4" y="879.6"/><use href="#mk" x="239.7" y="877.2"/><use href="#mk" x="240.1" y="883.5"/><use href="#mk" x="240.2" y="884.5"/><use href="#mk" x="240.3" y="883.8"/><use href="#mk" x="240.3" y="883.7"/><use href="#mk" x="240.3" y="882.3"/><use href="#mk" x="240.4" y="876.6"/><use href="#mk" x="240.4" y="883.6"/><use href="#mk" x="241.1" y="871.1"/><use href="#mk" x="241.2" y="884.8"/><use href="#mk" x="241.9" y="843.8"/><use href="#mk" x="242.2" y="885.0"/><use href="#mk" x="243.0" y="878.9"/><use href="#mk" x="243.2" y="885.3"/><use href="#mk" x="243.7" y="881.8"/><use href="#mk" x="243.8" y="884.1"/><use href="#mk" x="244.2" y="885.5"/><use href="#mk" x="244.5" y="873.6"/><use href="#mk" x="245.2" y="885.8"/><use href="#mk" x="245.6" y="849.9"/><use href="#mk" x="245.8" y="871.1"/><use href="#mk" x="246.2" y="886.0"/><use href="#mk" x="246.9" y="882.1"/><use href="#mk" x="247.2" y="864.9"/><use href="#mk" x="247.2" y="886.3"/><use href="#mk" x="247.2" y="877.1"/><use href="#mk" x="247.5" y="885.3"/><use href="#mk" x="248.2" y="886.6"/><use href="#mk" x="248.6" y="863.2"/><use href="#mk" x="248.8" y="875.2"/><use href="#mk" x="248.9" y="872.3"/><use href="#mk" x="249.2" y="886.9"/><use href="#mk" x="249.3" y="878.6"/><use href="#mk" x="249.4" y="866.1"/><use href="#mk" x="249.5" y="883.7"/><use href="#mk" x="249.6" y="876.6"/><use href="#mk" x="249.8" y="884.7"/><use href="#mk" x="250.2" y="887.2"/><use href="#mk" x="251.1" y="876.2"/><use href="#mk" x="251.2" y="887.5"/><use href="#mk" x="252.2" y="887.9"/><use href="#mk" x="252.3" y="805.4"/><use href="#mk" x="252.5" y="885.0"/><use href="#mk" x="252.9" y="881.4"/><use href="#mk" x="253.2" y="888.2"/><use href="#mk" x="253.3" y="878.9"/><use href="#mk" x="253.8" y="871.8"/><use href="#mk" x="254.2" y="888.5"/><use href="#mk" x="254.2" y="872.9"/><use href="#mk" x="255.2" y="888.8"/><use href="#mk" x="256.0" y="867.0"/><use href="#mk" x="256.1" y="887.5"/><use href="#mk" x="256.2" y="863.2"/><use href="#mk" x="256.2" y="889.1"/><use href="#mk" x="256.3" y="888.5"/><use href="#mk" x="257.1" y="887.9"/><use href="#mk" x="257.1" y="880.0"/><use href="#mk" x="257.2" y="889.4"/><use href="#mk" x="257.9" y="880.4"/><use href="#mk" x="258.0" y="886.4"/><use href="#mk" x="258.2" y="889.7"/><use href="#mk" x="258.6" y="879.3"/><use href="#mk" x="258.6" y="889.1"/><use href="#mk" x="258.7" y="856.7"/><use href="#mk" x="259.2" y="890.0"/><use href="#mk" x="259.3" y="884.7"/><use href="#mk" x="259.3" y="870.2"/><use href="#mk" x="259.3" y="877.7"/><use href="#mk" x="260.2" y="890.4"/><use href="#mk" x="260.6" y="885.1"/><use href="#mk" x="261.2" y="890.7"/><use href="#mk" x="262.2" y="887.9"/><use href="#mk" x="262.2" y="891.0"/><use href="#mk" x="262.5" y="843.4"/><use href="#mk" x="263.2" y="891.3"/><use href="#mk" x="263.8" y="879.9"/><use href="#mk" x="264.2" y="891.7"/><use href="#mk" x="264.4" y="890.1"/><use href="#mk" x="264.7" y="881.7"/><use href="#mk" x="265.2" y="892.0"/><use href="#mk" x="265.6" y="876.1"/><use href="#mk" x="265.7" y="884.5"/><use href="#mk" x="265.9" y="887.6"/><use href="#mk" x="266.0" y="872.1"/><use href="#mk" x="266.2" y="892.4"/><use href="#mk" x="266.8" y="887.2"/><use href="#mk" x="267.2" y="892.8"/><use href="#mk" x="268.2" y="893.1"/><use href="#mk" x="268.3" y="889.7"/><use href="#mk" x="268.8" y="881.7"/><use href="#mk" x="269.1" y="882.5"/><use href="#mk" x="269.2" y="893.5"/><use href="#mk" x="269.5" y="843.4"/><use href="#mk" x="269.8" y="892.2"/><use href="#mk" x="270.2" y="893.8"/><use href="#mk" x="271.0" y="891.3"/><use href="#mk" x="271.2" y="894.2"/><use href="#mk" x="272.2" y="894.6"/><use href="#mk" x="272.6" y="892.5"/><use href="#mk" x="272.7" y="874.8"/><use href="#mk" x="272.7" y="884.7"/><use href="#mk" x="273.2" y="895.0"/><use href="#mk" x="273.6" y="862.2"/><use href="#mk" x="273.8" y="874.2"/><use href="#mk" x="274.2" y="884.8"/><use href="#mk" x="274.2" y="895.4"/><use href="#mk" x="274.9" y="886.0"/><use href="#mk" x="275.2" y="895.8"/><use href="#mk" x="275.4" y="895.1"/><use href="#mk" x="276.1" y="869.4"/><use href="#mk" x="276.2" y="896.2"/><use href="#mk" x="276.8" y="882.2"/><use href="#mk" x="277.1" y="892.7"/><use href="#mk" x="277.1" y="895.9"/><use href="#mk" x="277.2" y="896.6"/><use href="#mk" x="277.3" y="893.0"/><use href="#mk" x="278.2" y="897.0"/><use href="#mk" x="279.2" y="897.4"/><use href="#mk" x="279.4" y="895.5"/><use href="#mk" x="279.5" y="886.9"/><use href="#mk" x="280.1" y="824.6"/><use href="#mk" x="280.2" y="897.8"/><use href="#mk" x="281.2" y="898.3"/><use href="#mk" x="282.2" y="898.8"/><use href="#mk" x="282.5" y="891.5"/><use href="#mk" x="282.8" y="882.2"/><use href="#mk" x="283.2" y="899.3"/><use href="#mk" x="283.5" y="875.5"/><use href="#mk" x="283.8" y="891.5"/><use href="#mk" x="284.1" y="875.5"/><use href="#mk" x="284.2" y="899.8"/><use href="#mk" x="284.3" y="891.0"/><use href="#mk" x="284.4" y="896.5"/><use href="#mk" x="284.6" y="886.7"/><use href="#mk" x="284.6" y="897.7"/><use href="#mk" x="285.0" y="893.6"/><use href="#mk" x="285.2" y="900.3"/><use href="#mk" x="286.2" y="862.2"/><use href="#mk" x="286.2" y="900.8"/><use href="#mk" x="286.3" y="893.0"/><use href="#mk" x="286.5" y="892.1"/><use href="#mk" x="287.2" y="901.3"/><use href="#mk" x="288.2" y="901.8"/><use href="#mk" x="288.4" y="891.6"/><use href="#mk" x="288.7" y="898.4"/><use href="#mk" x="289.2" y="902.4"/><use href="#mk" x="289.6" y="894.2"/><use href="#mk" x="290.0" y="900.0"/><use href="#mk" x="290.2" y="903.0"/><use href="#mk" x="290.8" y="892.7"/><use href="#mk" x="290.9" y="901.6"/><use href="#mk" x="290.9" y="862.2"/><use href="#mk" x="291.2" y="903.6"/><use href="#mk" x="291.2" y="902.5"/><use href="#mk" x="291.4" y="897.2"/><use href="#mk" x="292.0" y="903.7"/><use href="#mk" x="292.2" y="904.2"/><use href="#mk" x="292.4" y="896.0"/><use href="#mk" x="292.8" y="881.5"/><use href="#mk" x="292.9" y="896.1"/><use href="#mk" x="293.2" y="904.8"/><use href="#mk" x="293.4" y="904.2"/><use href="#mk" x="294.2" y="905.3"/><use href="#mk" x="294.6" y="897.5"/><use href="#mk" x="294.8" y="888.2"/><use href="#mk" x="294.8" y="896.0"/><use href="#mk" x="295.2" y="900.9"/><use href="#mk" x="295.2" y="905.9"/><use href="#mk" x="296.2" y="906.5"/><use href="#mk" x="296.9" y="843.0"/><use href="#mk" x="297.1" y="907.0"/><use href="#mk" x="297.2" y="907.1"/><use href="#mk" x="298.2" y="907.8"/><use href="#mk" x="298.8" y="901.4"/><use href="#mk" x="298.9" y="899.4"/><use href="#mk" x="299.2" y="908.6"/><use href="#mk" x="299.2" y="902.2"/><use href="#mk" x="299.5" y="893.6"/><use href="#mk" x="300.2" y="881.5"/><use href="#mk" x="300.2" y="909.4"/><use href="#mk" x="301.2" y="910.2"/><use href="#mk" x="301.8" y="908.3"/><use href="#mk" x="301.8" y="905.6"/><use href="#mk" x="302.1" y="902.5"/><use href="#mk" x="302.2" y="911.0"/><use href="#mk" x="303.1" y="910.7"/><use href="#mk" x="303.2" y="911.8"/><use href="#mk" x="304.2" y="881.5"/><use href="#mk" x="304.2" y="912.5"/><use href="#mk" x="304.3" y="907.3"/><use href="#mk" x="304.4" y="908.0"/><use href="#mk" x="305.2" y="913.3"/><use href="#mk" x="305.6" y="900.3"/><use href="#mk" x="305.6" y="907.4"/><use href="#mk" x="305.8" y="909.9"/><use href="#mk" x="306.2" y="914.1"/><use href="#mk" x="307.2" y="915.2"/><use href="#mk" x="307.6" y="862.5"/><use href="#mk" x="307.9" y="862.2"/><use href="#mk" x="308.1" y="914.6"/><use href="#mk" x="308.2" y="916.4"/><use href="#mk" x="309.2" y="917.5"/><use href="#mk" x="310.2" y="918.6"/><use href="#mk" x="310.3" y="912.8"/><use href="#mk" x="310.9" y="900.9"/><use href="#mk" x="311.0" y="916.6"/><use href="#mk" x="311.2" y="919.9"/><use href="#mk" x="311.8" y="920.4"/><use href="#mk" x="312.2" y="921.4"/><use href="#mk" x="312.3" y="916.3"/><use href="#mk" x="312.4" y="916.7"/><use href="#mk" x="312.5" y="919.7"/><use href="#mk" x="313.2" y="922.8"/><use href="#mk" x="313.6" y="919.0"/><use href="#mk" x="313.8" y="881.8"/><use href="#mk" x="313.8" y="922.7"/><use href="#mk" x="314.2" y="924.2"/><use href="#mk" x="314.5" y="922.3"/><use href="#mk" x="314.9" y="927.0"/><use href="#mk" x="315.2" y="925.7"/><use href="#mk" x="316.2" y="927.9"/><use href="#mk" x="317.2" y="930.0"/><use href="#mk" x="318.0" y="901.4"/><use href="#mk" x="318.2" y="932.2"/><use href="#mk" x="318.2" y="930.2"/><use href="#mk" x="319.2" y="934.4"/><use href="#mk" x="320.2" y="936.8"/><use href="#mk" x="320.3" y="935.8"/><use href="#mk" x="321.0" y="936.3"/><use href="#mk" x="321.2" y="949.2"/><use href="#mk" x="321.5" y="919.9"/><use href="#mk" x="322.3" y="938.6"/><use href="#mk" x="322.8" y="955.7"/><use href="#mk" x="323.0" y="938.4"/><use href="#mk" x="323.6" y="975.3"/><use href="#mk" x="324.7" y="787.2"/>
<line x1="64.7" y1="769.0" x2="75.2" y2="769.0" stroke="#000" stroke-width="2.6" />
<line x1="64.7" y1="814.7" x2="75.2" y2="814.7" stroke="#000" stroke-width="2.6" />
<line x1="64.7" y1="860.5" x2="75.2" y2="860.5" stroke="#000" stroke-width="2.6" />
<line x1="64.7" y1="906.2" x2="75.2" y2="906.2" stroke="#000" stroke-width="2.6" />
<line x1="64.7" y1="952.0" x2="75.2" y2="952.0" stroke="#000" stroke-width="2.6" />
<line x1="76.8" y1="997.7" x2="76.8" y2="987.2" stroke="#000" stroke-width="2.6" />
<line x1="126.2" y1="997.7" x2="126.2" y2="987.2" stroke="#000" stroke-width="2.6" />
<line x1="175.6" y1="997.7" x2="175.6" y2="987.2" stroke="#000" stroke-width="2.6" />
<line x1="225.0" y1="997.7" x2="225.0" y2="987.2" stroke="#000" stroke-width="2.6" />
<line x1="274.4" y1="997.7" x2="274.4" y2="987.2" stroke="#000" stroke-width="2.6" />
<line x1="323.8" y1="997.7" x2="323.8" y2="987.2" stroke="#000" stroke-width="2.6" />
<rect x="64.7" y="758.6" width="272.6" height="239.1" fill="none" stroke="#000" stroke-width="2.6"/>
<text x="52.7" y="779.0" text-anchor="end" font-size="28">10<tspan dx="0.5" dy="-11" font-size="20">0</tspan></text>
<text x="52.7" y="1008.0" text-anchor="end" font-size="28">10<tspan dx="0.5" dy="-10" font-size="20">-5</tspan></text>
<text transform="translate(76.8,1027.7) scale(1,1.04)" text-anchor="middle" font-size="28" >0</text>
<text x="325.1" y="1020.2" text-anchor="middle" font-size="22.5" font-style="italic" stroke="#000" stroke-width="0.6">π</text>
<line x1="317.8" y1="1023.9" x2="331.8" y2="1023.9" stroke="#000" stroke-width="1.4" />
<text x="324.8" y="1041.0" text-anchor="middle" font-size="21.5" >2</text>
<text x="132.5" y="1037.7" font-size="28">frequency, <tspan font-style="italic">ν</tspan></text>
<text x="205.3" y="925.5" text-anchor="middle" font-size="28" >micromotion</text>
<text x="0.0" y="0.0" text-anchor="middle" font-size="28" transform="translate(19.8,878.5) rotate(-90)">Fourier amplitude</text>
<text x="0.0" y="0.0" text-anchor="middle" font-size="28" transform="translate(47.9,878.5) rotate(-90)">(normalized)</text>
<text x="26.5" y="741.7" text-anchor="start" font-size="28" font-weight="bold" >c</text>
<path d="M663.4 849.4V872.0M663.1 856.7V872.0M660.7 821.8V872.0M660.5 852.0V872.0M659.9 862.3V872.0M659.7 856.2V872.0M656.8 836.3V872.0M654.8 842.8V872.0M654.6 853.2V872.0M650.1 793.2V872.0M648.1 862.3V872.0M647.0 845.9V872.1M646.5 851.2V872.1M643.5 832.6V872.2M642.2 857.5V872.2M639.4 829.1V872.3M637.9 864.2V872.3M637.5 862.0V872.3M637.4 846.3V872.4M635.3 864.1V872.4M635.2 854.8V872.4M635.0 856.2V872.4M632.7 809.1V872.5M632.4 854.2V872.5M630.1 850.3V872.6M630.0 850.3V872.6M629.4 850.0V872.6M629.2 841.8V872.6M627.7 863.5V872.6M627.6 840.4V872.6M627.5 863.6V872.6M627.2 864.3V872.6M625.7 859.6V872.7M625.1 859.5V872.7M622.3 815.6V872.8M619.4 863.5V872.9M619.4 850.0V872.9M618.6 850.1V873.0M616.4 827.1V873.0M611.9 835.7V873.2M611.7 863.3V873.2M611.3 864.3V873.3M610.2 845.9V873.3M605.5 766.8V873.5M604.5 854.3V873.5M603.9 864.1V873.5M603.7 858.2V873.6M602.0 845.9V873.6M601.1 851.8V873.7M600.5 849.9V873.7M600.0 862.9V873.7M598.8 837.1V873.8M597.5 865.2V873.9M596.4 860.6V874.0M594.9 826.7V874.1M594.4 851.3V874.2M592.0 866.0V874.4M591.8 850.4V874.4M588.8 819.9V874.6M585.8 851.7V874.9M584.7 840.8V874.9M583.7 866.6V875.0M582.2 843.8V875.1M581.4 866.1V875.2M578.2 858.6V875.5M577.7 807.3V875.5M576.8 859.8V875.6M575.8 857.4V875.7M574.5 849.0V875.8M574.4 859.9V875.8M573.6 864.8V875.9M573.4 867.1V875.9M572.8 834.2V876.0M570.2 866.1V876.2M567.6 866.0V876.5M567.3 858.9V876.5M566.7 835.0V876.6M566.4 864.6V876.6M566.0 868.5V876.6M565.8 858.0V876.7M564.9 850.6V876.7M564.1 862.7V876.8M562.3 866.1V877.0M562.2 858.7V877.0M560.8 805.4V877.2M559.9 858.5V877.3M557.8 868.6V877.5M557.7 857.3V877.5M557.5 869.1V877.5M557.1 847.9V877.5M554.4 842.8V877.8M551.0 861.9V878.2M550.3 824.4V878.2M550.3 868.1V878.2M546.9 855.1V878.6M546.6 867.6V878.6M546.5 868.4V878.6M545.9 868.7V878.7M545.4 859.2V878.7M545.1 870.0V878.7M543.8 830.1V878.9M543.2 867.2V878.9M543.2 866.8V878.9M542.7 869.3V879.0M542.7 869.7V879.0M541.9 860.5V879.1M541.8 870.7V879.1M541.1 870.0V879.1M540.3 853.4V879.2M539.7 842.4V879.3M539.3 865.9V879.3M539.0 842.4V879.4M537.7 851.0V879.5M537.5 870.6V879.5M536.9 851.0V879.6M535.9 871.3V879.7M533.0 786.6V880.0M532.4 869.5V880.0M532.2 870.3V880.0M530.5 869.6V880.2M530.0 870.4V880.3M528.7 853.0V880.4M528.2 870.3V880.5M527.6 866.8V880.5M526.7 842.4V880.6M526.6 868.9V880.6M526.3 871.6V880.6M526.2 871.1V880.7M525.7 869.0V880.7M524.8 854.0V880.8M524.5 858.2V880.8M522.6 836.3V881.1M521.5 868.0V881.2M521.4 866.0V881.2M520.3 868.6V881.3M520.2 858.1V881.4M520.0 870.3V881.4M519.6 873.3V881.4M515.7 823.4V881.9M515.4 870.3V881.9M515.1 863.9V882.0M514.0 871.1V882.1M513.5 871.3V882.2M511.3 874.3V882.4M511.0 851.4V882.5M508.4 867.5V883.1M507.7 873.2V883.2M507.4 871.6V883.3M505.4 823.4V883.8M505.3 870.3V883.8M504.4 871.6V884.0M503.1 873.6V884.4M503.0 873.3V884.4M501.7 870.8V884.7M501.6 876.0V884.8M500.9 875.2V884.9M500.2 874.6V885.1M499.5 869.1V885.3M498.7 841.8V885.5M497.6 876.9V885.7M496.1 871.6V886.1M495.0 847.9V886.4M494.8 869.1V886.4M493.4 862.9V886.9M493.4 875.1V886.9M492.0 861.2V887.3M491.8 873.2V887.4M491.7 870.3V887.4M491.3 876.6V887.5M491.2 864.1V887.6M491.0 874.6V887.6M489.5 874.2V888.1M488.3 803.4V888.5M487.7 879.4V888.7M487.3 876.9V888.8M486.8 869.8V888.9M486.4 870.9V889.1M484.6 865.0V889.6M484.4 861.2V889.7M483.5 878.0V890.0M482.7 878.4V890.2M482.0 877.3V890.4M481.9 854.7V890.5M481.3 868.2V890.6M481.3 875.7V890.7M478.1 841.4V891.7M476.8 877.9V892.1M475.9 879.7V892.5M475.0 874.1V892.8M474.9 882.5V892.9M474.6 870.1V893.0M473.8 885.2V893.2M471.8 879.7V894.0M471.5 880.5V894.1M471.1 841.4V894.2M467.9 872.8V895.5M467.9 882.7V895.5M467.0 860.2V895.8M466.8 872.2V895.9M466.4 882.8V896.1M465.7 884.0V896.3M464.5 867.4V896.8M463.8 880.2V897.1M461.1 884.9V898.3M460.5 822.6V898.6M458.1 889.5V899.8M457.8 880.2V899.9M457.1 873.5V900.3M456.8 889.5V900.4M456.5 873.5V900.6M456.3 889.0V900.7M456.0 884.7V900.8M455.6 891.6V901.0M454.4 860.2V901.6M454.3 891.0V901.7M454.1 890.1V901.8M452.2 889.6V902.9M451.0 892.2V903.5M449.8 890.7V904.3M449.7 860.2V904.3M449.2 895.2V904.6M448.2 894.0V905.2M447.8 879.5V905.4M447.7 894.1V905.5M446.0 895.5V906.5M445.8 886.2V906.6M445.8 894.0V906.6M443.7 841.0V908.0M441.8 899.4V909.4M441.7 897.4V909.6M441.4 900.2V909.8M441.1 891.6V910.0M440.4 879.5V910.5M438.8 903.6V911.8M438.5 900.5V912.0M436.4 879.5V913.7M436.3 905.3V913.7M435.0 898.3V915.0M435.0 905.4V915.0M433.0 860.5V917.3M432.7 860.2V917.6M430.3 910.8V920.6M429.7 898.9V921.4M428.3 914.3V923.4M428.2 914.7V923.6M427.0 917.0V925.2M426.8 879.8V925.5M422.6 899.4V934.6M419.1 917.9V941.0M415.9 785.2V941.0" stroke="#c9c9cc" stroke-width="1.2" fill="none"/>
<use href="#mk" x="663.4" y="851.4"/><use href="#mk" x="663.4" y="871.8"/><use href="#mk" x="663.1" y="867.2"/><use href="#mk" x="663.1" y="858.7"/><use href="#mk" x="663.0" y="871.8"/><use href="#mk" x="662.4" y="871.8"/><use href="#mk" x="661.4" y="871.8"/><use href="#mk" x="661.2" y="868.2"/><use href="#mk" x="660.7" y="823.8"/><use href="#mk" x="660.5" y="854.0"/><use href="#mk" x="660.4" y="866.8"/><use href="#mk" x="660.4" y="870.3"/><use href="#mk" x="660.4" y="871.8"/><use href="#mk" x="659.9" y="864.3"/><use href="#mk" x="659.7" y="858.2"/><use href="#mk" x="659.4" y="871.8"/><use href="#mk" x="658.6" y="866.7"/><use href="#mk" x="658.4" y="871.8"/><use href="#mk" x="658.2" y="870.9"/><use href="#mk" x="657.4" y="871.8"/><use href="#mk" x="656.8" y="869.4"/><use href="#mk" x="656.8" y="838.3"/><use href="#mk" x="656.4" y="871.8"/><use href="#mk" x="656.0" y="871.6"/><use href="#mk" x="655.4" y="871.8"/><use href="#mk" x="654.8" y="844.8"/><use href="#mk" x="654.6" y="855.2"/><use href="#mk" x="654.4" y="871.8"/><use href="#mk" x="653.4" y="871.8"/><use href="#mk" x="652.4" y="871.8"/><use href="#mk" x="651.4" y="871.8"/><use href="#mk" x="650.8" y="868.4"/><use href="#mk" x="650.5" y="870.6"/><use href="#mk" x="650.4" y="871.8"/><use href="#mk" x="650.2" y="870.4"/><use href="#mk" x="650.1" y="795.2"/><use href="#mk" x="649.4" y="871.8"/><use href="#mk" x="648.4" y="871.8"/><use href="#mk" x="648.1" y="864.3"/><use href="#mk" x="647.8" y="871.4"/><use href="#mk" x="647.7" y="871.6"/><use href="#mk" x="647.4" y="871.8"/><use href="#mk" x="647.0" y="847.9"/><use href="#mk" x="646.5" y="853.2"/><use href="#mk" x="646.4" y="871.9"/><use href="#mk" x="645.4" y="871.9"/><use href="#mk" x="644.4" y="867.1"/><use href="#mk" x="644.4" y="871.9"/><use href="#mk" x="643.5" y="834.6"/><use href="#mk" x="643.4" y="871.9"/><use href="#mk" x="642.7" y="869.9"/><use href="#mk" x="642.5" y="868.3"/><use href="#mk" x="642.4" y="872.0"/><use href="#mk" x="642.2" y="859.5"/><use href="#mk" x="641.9" y="867.0"/><use href="#mk" x="641.4" y="872.0"/><use href="#mk" x="641.3" y="870.4"/><use href="#mk" x="640.7" y="868.2"/><use href="#mk" x="640.5" y="872.0"/><use href="#mk" x="640.4" y="872.0"/><use href="#mk" x="639.4" y="831.1"/><use href="#mk" x="639.4" y="872.1"/><use href="#mk" x="638.5" y="867.1"/><use href="#mk" x="638.4" y="872.1"/><use href="#mk" x="637.9" y="866.2"/><use href="#mk" x="637.5" y="864.0"/><use href="#mk" x="637.4" y="848.3"/><use href="#mk" x="637.4" y="872.1"/><use href="#mk" x="636.4" y="872.1"/><use href="#mk" x="635.7" y="869.4"/><use href="#mk" x="635.4" y="872.2"/><use href="#mk" x="635.3" y="866.1"/><use href="#mk" x="635.2" y="856.8"/><use href="#mk" x="635.0" y="858.2"/><use href="#mk" x="634.4" y="872.2"/><use href="#mk" x="633.4" y="872.2"/><use href="#mk" x="632.8" y="870.2"/><use href="#mk" x="632.7" y="811.1"/><use href="#mk" x="632.7" y="867.5"/><use href="#mk" x="632.5" y="872.1"/><use href="#mk" x="632.4" y="872.3"/><use href="#mk" x="632.4" y="856.2"/><use href="#mk" x="631.4" y="872.3"/><use href="#mk" x="630.6" y="871.8"/><use href="#mk" x="630.4" y="872.3"/><use href="#mk" x="630.3" y="869.5"/><use href="#mk" x="630.3" y="868.6"/><use href="#mk" x="630.1" y="852.3"/><use href="#mk" x="630.0" y="852.3"/><use href="#mk" x="629.4" y="867.7"/><use href="#mk" x="629.4" y="852.0"/><use href="#mk" x="629.4" y="872.3"/><use href="#mk" x="629.2" y="843.8"/><use href="#mk" x="628.4" y="872.4"/><use href="#mk" x="628.4" y="870.2"/><use href="#mk" x="627.7" y="865.5"/><use href="#mk" x="627.6" y="842.4"/><use href="#mk" x="627.5" y="865.6"/><use href="#mk" x="627.4" y="872.4"/><use href="#mk" x="627.2" y="866.3"/><use href="#mk" x="626.4" y="872.4"/><use href="#mk" x="625.7" y="861.6"/><use href="#mk" x="625.4" y="872.5"/><use href="#mk" x="625.1" y="861.5"/><use href="#mk" x="624.5" y="870.8"/><use href="#mk" x="624.4" y="872.5"/><use href="#mk" x="624.4" y="871.6"/><use href="#mk" x="624.0" y="868.7"/><use href="#mk" x="623.4" y="872.5"/><use href="#mk" x="622.4" y="871.6"/><use href="#mk" x="622.4" y="872.6"/><use href="#mk" x="622.3" y="817.6"/><use href="#mk" x="622.2" y="867.4"/><use href="#mk" x="622.2" y="868.6"/><use href="#mk" x="621.4" y="872.6"/><use href="#mk" x="621.0" y="872.3"/><use href="#mk" x="620.4" y="872.6"/><use href="#mk" x="619.4" y="865.5"/><use href="#mk" x="619.4" y="852.0"/><use href="#mk" x="619.4" y="872.7"/><use href="#mk" x="618.6" y="852.1"/><use href="#mk" x="618.4" y="872.7"/><use href="#mk" x="617.7" y="869.2"/><use href="#mk" x="617.4" y="872.8"/><use href="#mk" x="617.0" y="869.2"/><use href="#mk" x="616.4" y="829.1"/><use href="#mk" x="616.4" y="872.8"/><use href="#mk" x="616.2" y="871.9"/><use href="#mk" x="615.5" y="872.3"/><use href="#mk" x="615.4" y="872.8"/><use href="#mk" x="615.3" y="868.3"/><use href="#mk" x="615.1" y="868.1"/><use href="#mk" x="615.0" y="871.4"/><use href="#mk" x="614.6" y="868.9"/><use href="#mk" x="614.4" y="872.9"/><use href="#mk" x="613.4" y="872.9"/><use href="#mk" x="613.4" y="871.3"/><use href="#mk" x="613.2" y="868.4"/><use href="#mk" x="612.9" y="872.6"/><use href="#mk" x="612.4" y="873.0"/><use href="#mk" x="612.3" y="871.3"/><use href="#mk" x="611.9" y="837.7"/><use href="#mk" x="611.7" y="865.3"/><use href="#mk" x="611.6" y="872.8"/><use href="#mk" x="611.4" y="873.0"/><use href="#mk" x="611.3" y="866.3"/><use href="#mk" x="611.3" y="872.3"/><use href="#mk" x="610.4" y="873.0"/><use href="#mk" x="610.2" y="847.9"/><use href="#mk" x="610.1" y="868.5"/><use href="#mk" x="609.4" y="873.1"/><use href="#mk" x="608.5" y="872.8"/><use href="#mk" x="608.4" y="873.1"/><use href="#mk" x="607.4" y="873.2"/><use href="#mk" x="606.4" y="873.2"/><use href="#mk" x="605.7" y="869.8"/><use href="#mk" x="605.7" y="870.5"/><use href="#mk" x="605.7" y="871.4"/><use href="#mk" x="605.5" y="768.8"/><use href="#mk" x="605.4" y="873.2"/><use href="#mk" x="604.5" y="856.3"/><use href="#mk" x="604.4" y="873.3"/><use href="#mk" x="603.9" y="866.1"/><use href="#mk" x="603.7" y="860.2"/><use href="#mk" x="603.4" y="873.3"/><use href="#mk" x="602.4" y="873.4"/><use href="#mk" x="602.0" y="847.9"/><use href="#mk" x="601.5" y="872.5"/><use href="#mk" x="601.4" y="873.4"/><use href="#mk" x="601.1" y="853.8"/><use href="#mk" x="600.5" y="851.9"/><use href="#mk" x="600.4" y="873.4"/><use href="#mk" x="600.0" y="864.9"/><use href="#mk" x="599.6" y="869.5"/><use href="#mk" x="599.4" y="873.5"/><use href="#mk" x="598.8" y="839.1"/><use href="#mk" x="598.8" y="871.4"/><use href="#mk" x="598.5" y="868.3"/><use href="#mk" x="598.4" y="873.5"/><use href="#mk" x="597.5" y="867.2"/><use href="#mk" x="597.4" y="873.6"/><use href="#mk" x="596.4" y="873.7"/><use href="#mk" x="596.4" y="862.6"/><use href="#mk" x="596.3" y="869.7"/><use href="#mk" x="595.4" y="873.8"/><use href="#mk" x="595.2" y="873.4"/><use href="#mk" x="595.1" y="871.7"/><use href="#mk" x="594.9" y="828.7"/><use href="#mk" x="594.4" y="853.3"/><use href="#mk" x="594.4" y="873.9"/><use href="#mk" x="594.1" y="873.5"/><use href="#mk" x="593.4" y="873.9"/><use href="#mk" x="592.4" y="874.0"/><use href="#mk" x="592.2" y="873.5"/><use href="#mk" x="592.0" y="868.0"/><use href="#mk" x="591.8" y="852.4"/><use href="#mk" x="591.4" y="874.1"/><use href="#mk" x="591.1" y="873.7"/><use href="#mk" x="590.7" y="871.6"/><use href="#mk" x="590.6" y="868.5"/><use href="#mk" x="590.4" y="874.2"/><use href="#mk" x="589.4" y="874.3"/><use href="#mk" x="588.8" y="821.9"/><use href="#mk" x="588.4" y="874.4"/><use href="#mk" x="588.2" y="873.9"/><use href="#mk" x="587.4" y="874.4"/><use href="#mk" x="586.9" y="869.1"/><use href="#mk" x="586.4" y="874.5"/><use href="#mk" x="585.9" y="872.8"/><use href="#mk" x="585.8" y="853.7"/><use href="#mk" x="585.4" y="874.6"/><use href="#mk" x="584.7" y="842.8"/><use href="#mk" x="584.4" y="873.7"/><use href="#mk" x="584.4" y="874.7"/><use href="#mk" x="583.7" y="868.6"/><use href="#mk" x="583.4" y="874.8"/><use href="#mk" x="582.4" y="874.8"/><use href="#mk" x="582.2" y="869.9"/><use href="#mk" x="582.2" y="845.8"/><use href="#mk" x="581.4" y="874.9"/><use href="#mk" x="581.4" y="868.1"/><use href="#mk" x="580.6" y="871.7"/><use href="#mk" x="580.4" y="871.7"/><use href="#mk" x="580.4" y="875.0"/><use href="#mk" x="579.8" y="871.8"/><use href="#mk" x="579.4" y="875.1"/><use href="#mk" x="578.6" y="873.8"/><use href="#mk" x="578.4" y="875.2"/><use href="#mk" x="578.3" y="873.2"/><use href="#mk" x="578.2" y="860.6"/><use href="#mk" x="577.7" y="809.3"/><use href="#mk" x="577.4" y="875.2"/><use href="#mk" x="577.3" y="875.1"/><use href="#mk" x="576.8" y="861.8"/><use href="#mk" x="576.5" y="874.8"/><use href="#mk" x="576.4" y="875.3"/><use href="#mk" x="575.8" y="859.4"/><use href="#mk" x="575.4" y="875.4"/><use href="#mk" x="574.5" y="851.0"/><use href="#mk" x="574.4" y="861.9"/><use href="#mk" x="574.4" y="875.5"/><use href="#mk" x="573.6" y="866.8"/><use href="#mk" x="573.4" y="875.6"/><use href="#mk" x="573.4" y="869.1"/><use href="#mk" x="572.8" y="836.2"/><use href="#mk" x="572.7" y="870.7"/><use href="#mk" x="572.4" y="875.7"/><use href="#mk" x="572.2" y="872.0"/><use href="#mk" x="571.4" y="875.8"/><use href="#mk" x="570.6" y="872.8"/><use href="#mk" x="570.4" y="875.9"/><use href="#mk" x="570.2" y="868.1"/><use href="#mk" x="569.9" y="873.4"/><use href="#mk" x="569.4" y="876.0"/><use href="#mk" x="568.6" y="872.4"/><use href="#mk" x="568.4" y="876.1"/><use href="#mk" x="568.4" y="872.3"/><use href="#mk" x="568.1" y="873.1"/><use href="#mk" x="568.0" y="873.1"/><use href="#mk" x="567.6" y="868.0"/><use href="#mk" x="567.4" y="873.7"/><use href="#mk" x="567.4" y="876.2"/><use href="#mk" x="567.4" y="873.0"/><use href="#mk" x="567.3" y="860.9"/><use href="#mk" x="566.7" y="837.0"/><use href="#mk" x="566.4" y="876.3"/><use href="#mk" x="566.4" y="866.6"/><use href="#mk" x="566.0" y="870.5"/><use href="#mk" x="565.8" y="860.0"/><use href="#mk" x="565.6" y="873.1"/><use href="#mk" x="565.4" y="876.4"/><use href="#mk" x="564.9" y="852.6"/><use href="#mk" x="564.8" y="871.8"/><use href="#mk" x="564.6" y="876.4"/><use href="#mk" x="564.4" y="876.5"/><use href="#mk" x="564.1" y="864.7"/><use href="#mk" x="563.4" y="876.6"/><use href="#mk" x="562.4" y="876.7"/><use href="#mk" x="562.3" y="868.1"/><use href="#mk" x="562.2" y="860.7"/><use href="#mk" x="562.2" y="871.4"/><use href="#mk" x="562.1" y="874.2"/><use href="#mk" x="561.4" y="876.8"/><use href="#mk" x="560.8" y="807.4"/><use href="#mk" x="560.4" y="876.9"/><use href="#mk" x="559.9" y="860.5"/><use href="#mk" x="559.4" y="877.0"/><use href="#mk" x="558.9" y="875.9"/><use href="#mk" x="558.4" y="873.1"/><use href="#mk" x="558.4" y="877.1"/><use href="#mk" x="557.8" y="870.6"/><use href="#mk" x="557.7" y="859.3"/><use href="#mk" x="557.5" y="873.7"/><use href="#mk" x="557.5" y="871.1"/><use href="#mk" x="557.4" y="877.2"/><use href="#mk" x="557.2" y="875.5"/><use href="#mk" x="557.1" y="849.9"/><use href="#mk" x="556.4" y="877.3"/><use href="#mk" x="555.5" y="874.1"/><use href="#mk" x="555.4" y="877.4"/><use href="#mk" x="555.2" y="872.7"/><use href="#mk" x="554.4" y="844.8"/><use href="#mk" x="554.4" y="877.5"/><use href="#mk" x="553.4" y="877.3"/><use href="#mk" x="553.4" y="877.6"/><use href="#mk" x="552.4" y="877.7"/><use href="#mk" x="551.4" y="877.8"/><use href="#mk" x="551.0" y="863.9"/><use href="#mk" x="550.4" y="877.9"/><use href="#mk" x="550.3" y="826.4"/><use href="#mk" x="550.3" y="870.1"/><use href="#mk" x="549.4" y="878.0"/><use href="#mk" x="548.5" y="874.2"/><use href="#mk" x="548.4" y="878.1"/><use href="#mk" x="547.4" y="878.2"/><use href="#mk" x="546.9" y="857.1"/><use href="#mk" x="546.6" y="869.6"/><use href="#mk" x="546.5" y="870.4"/><use href="#mk" x="546.4" y="878.3"/><use href="#mk" x="546.3" y="874.5"/><use href="#mk" x="546.2" y="874.7"/><use href="#mk" x="546.2" y="873.5"/><use href="#mk" x="545.9" y="870.7"/><use href="#mk" x="545.4" y="878.4"/><use href="#mk" x="545.4" y="861.2"/><use href="#mk" x="545.1" y="872.0"/><use href="#mk" x="544.6" y="877.0"/><use href="#mk" x="544.4" y="878.5"/><use href="#mk" x="543.8" y="832.1"/><use href="#mk" x="543.4" y="878.6"/><use href="#mk" x="543.2" y="869.2"/><use href="#mk" x="543.2" y="868.8"/><use href="#mk" x="542.7" y="871.3"/><use href="#mk" x="542.7" y="871.7"/><use href="#mk" x="542.4" y="878.7"/><use href="#mk" x="541.9" y="862.5"/><use href="#mk" x="541.8" y="872.7"/><use href="#mk" x="541.4" y="878.8"/><use href="#mk" x="541.1" y="872.0"/><use href="#mk" x="540.4" y="878.9"/><use href="#mk" x="540.3" y="855.4"/><use href="#mk" x="539.7" y="844.4"/><use href="#mk" x="539.4" y="879.0"/><use href="#mk" x="539.3" y="867.9"/><use href="#mk" x="539.1" y="876.2"/><use href="#mk" x="539.0" y="844.4"/><use href="#mk" x="538.7" y="873.7"/><use href="#mk" x="538.4" y="875.2"/><use href="#mk" x="538.4" y="879.1"/><use href="#mk" x="537.7" y="853.0"/><use href="#mk" x="537.5" y="872.6"/><use href="#mk" x="537.4" y="874.5"/><use href="#mk" x="537.4" y="879.2"/><use href="#mk" x="536.9" y="853.0"/><use href="#mk" x="536.6" y="878.4"/><use href="#mk" x="536.4" y="879.3"/><use href="#mk" x="535.9" y="873.3"/><use href="#mk" x="535.4" y="879.4"/><use href="#mk" x="534.7" y="877.9"/><use href="#mk" x="534.4" y="879.5"/><use href="#mk" x="533.4" y="879.6"/><use href="#mk" x="533.0" y="788.6"/><use href="#mk" x="532.7" y="876.9"/><use href="#mk" x="532.6" y="875.8"/><use href="#mk" x="532.5" y="875.5"/><use href="#mk" x="532.4" y="871.5"/><use href="#mk" x="532.4" y="879.7"/><use href="#mk" x="532.2" y="872.3"/><use href="#mk" x="531.4" y="879.8"/><use href="#mk" x="531.1" y="877.9"/><use href="#mk" x="530.5" y="871.6"/><use href="#mk" x="530.4" y="879.9"/><use href="#mk" x="530.1" y="876.3"/><use href="#mk" x="530.0" y="872.4"/><use href="#mk" x="529.4" y="880.0"/><use href="#mk" x="528.7" y="855.0"/><use href="#mk" x="528.4" y="880.1"/><use href="#mk" x="528.2" y="872.3"/><use href="#mk" x="527.6" y="868.8"/><use href="#mk" x="527.4" y="880.2"/><use href="#mk" x="526.7" y="844.4"/><use href="#mk" x="526.6" y="876.3"/><use href="#mk" x="526.6" y="870.9"/><use href="#mk" x="526.4" y="875.8"/><use href="#mk" x="526.4" y="880.3"/><use href="#mk" x="526.3" y="873.6"/><use href="#mk" x="526.3" y="879.7"/><use href="#mk" x="526.2" y="873.1"/><use href="#mk" x="525.7" y="871.0"/><use href="#mk" x="525.4" y="880.4"/><use href="#mk" x="525.2" y="875.4"/><use href="#mk" x="524.8" y="856.0"/><use href="#mk" x="524.5" y="860.2"/><use href="#mk" x="524.4" y="880.5"/><use href="#mk" x="524.1" y="875.7"/><use href="#mk" x="523.4" y="880.6"/><use href="#mk" x="522.6" y="877.4"/><use href="#mk" x="522.6" y="838.3"/><use href="#mk" x="522.4" y="880.8"/><use href="#mk" x="521.5" y="870.0"/><use href="#mk" x="521.4" y="878.9"/><use href="#mk" x="521.4" y="880.9"/><use href="#mk" x="521.4" y="868.0"/><use href="#mk" x="520.7" y="879.3"/><use href="#mk" x="520.4" y="881.0"/><use href="#mk" x="520.3" y="870.6"/><use href="#mk" x="520.2" y="860.1"/><use href="#mk" x="520.0" y="872.3"/><use href="#mk" x="519.6" y="875.3"/><use href="#mk" x="519.4" y="881.1"/><use href="#mk" x="518.4" y="881.2"/><use href="#mk" x="517.4" y="881.3"/><use href="#mk" x="517.1" y="876.5"/><use href="#mk" x="516.4" y="881.5"/><use href="#mk" x="515.7" y="825.4"/><use href="#mk" x="515.4" y="872.3"/><use href="#mk" x="515.4" y="881.6"/><use href="#mk" x="515.1" y="865.9"/><use href="#mk" x="514.8" y="881.0"/><use href="#mk" x="514.4" y="881.7"/><use href="#mk" x="514.0" y="873.1"/><use href="#mk" x="513.5" y="873.3"/><use href="#mk" x="513.4" y="881.8"/><use href="#mk" x="513.2" y="876.4"/><use href="#mk" x="512.6" y="881.4"/><use href="#mk" x="512.4" y="881.9"/><use href="#mk" x="511.4" y="882.1"/><use href="#mk" x="511.3" y="876.3"/><use href="#mk" x="511.1" y="881.6"/><use href="#mk" x="511.0" y="853.4"/><use href="#mk" x="510.4" y="882.2"/><use href="#mk" x="509.8" y="879.4"/><use href="#mk" x="509.4" y="882.3"/><use href="#mk" x="508.4" y="882.5"/><use href="#mk" x="508.4" y="869.5"/><use href="#mk" x="508.2" y="880.3"/><use href="#mk" x="507.7" y="875.2"/><use href="#mk" x="507.4" y="882.8"/><use href="#mk" x="507.4" y="873.6"/><use href="#mk" x="506.5" y="881.7"/><use href="#mk" x="506.4" y="883.0"/><use href="#mk" x="505.4" y="825.4"/><use href="#mk" x="505.4" y="883.3"/><use href="#mk" x="505.3" y="872.3"/><use href="#mk" x="504.4" y="873.6"/><use href="#mk" x="504.4" y="883.5"/><use href="#mk" x="503.4" y="883.8"/><use href="#mk" x="503.1" y="875.6"/><use href="#mk" x="503.0" y="875.3"/><use href="#mk" x="502.6" y="882.3"/><use href="#mk" x="502.5" y="881.9"/><use href="#mk" x="502.4" y="884.0"/><use href="#mk" x="502.4" y="881.4"/><use href="#mk" x="501.7" y="872.8"/><use href="#mk" x="501.6" y="878.0"/><use href="#mk" x="501.4" y="884.3"/><use href="#mk" x="501.2" y="879.6"/><use href="#mk" x="500.9" y="877.2"/><use href="#mk" x="500.5" y="883.5"/><use href="#mk" x="500.4" y="884.5"/><use href="#mk" x="500.3" y="883.8"/><use href="#mk" x="500.3" y="883.7"/><use href="#mk" x="500.3" y="882.3"/><use href="#mk" x="500.2" y="876.6"/><use href="#mk" x="500.2" y="883.6"/><use href="#mk" x="499.5" y="871.1"/><use href="#mk" x="499.4" y="884.8"/><use href="#mk" x="498.7" y="843.8"/><use href="#mk" x="498.4" y="885.0"/><use href="#mk" x="497.6" y="878.9"/><use href="#mk" x="497.4" y="885.3"/><use href="#mk" x="496.9" y="881.8"/><use href="#mk" x="496.8" y="884.1"/><use href="#mk" x="496.4" y="885.5"/><use href="#mk" x="496.1" y="873.6"/><use href="#mk" x="495.4" y="885.8"/><use href="#mk" x="495.0" y="849.9"/><use href="#mk" x="494.8" y="871.1"/><use href="#mk" x="494.4" y="886.0"/><use href="#mk" x="493.7" y="882.1"/><use href="#mk" x="493.4" y="864.9"/><use href="#mk" x="493.4" y="886.3"/><use href="#mk" x="493.4" y="877.1"/><use href="#mk" x="493.1" y="885.3"/><use href="#mk" x="492.4" y="886.6"/><use href="#mk" x="492.0" y="863.2"/><use href="#mk" x="491.8" y="875.2"/><use href="#mk" x="491.7" y="872.3"/><use href="#mk" x="491.4" y="886.9"/><use href="#mk" x="491.3" y="878.6"/><use href="#mk" x="491.2" y="866.1"/><use href="#mk" x="491.1" y="883.7"/><use href="#mk" x="491.0" y="876.6"/><use href="#mk" x="490.8" y="884.7"/><use href="#mk" x="490.4" y="887.2"/><use href="#mk" x="489.5" y="876.2"/><use href="#mk" x="489.4" y="887.5"/><use href="#mk" x="488.4" y="887.9"/><use href="#mk" x="488.3" y="805.4"/><use href="#mk" x="488.1" y="885.0"/><use href="#mk" x="487.7" y="881.4"/><use href="#mk" x="487.4" y="888.2"/><use href="#mk" x="487.3" y="878.9"/><use href="#mk" x="486.8" y="871.8"/><use href="#mk" x="486.4" y="888.5"/><use href="#mk" x="486.4" y="872.9"/><use href="#mk" x="485.4" y="888.8"/><use href="#mk" x="484.6" y="867.0"/><use href="#mk" x="484.5" y="887.5"/><use href="#mk" x="484.4" y="863.2"/><use href="#mk" x="484.4" y="889.1"/><use href="#mk" x="484.3" y="888.5"/><use href="#mk" x="483.5" y="887.9"/><use href="#mk" x="483.5" y="880.0"/><use href="#mk" x="483.4" y="889.4"/><use href="#mk" x="482.7" y="880.4"/><use href="#mk" x="482.6" y="886.4"/><use href="#mk" x="482.4" y="889.7"/><use href="#mk" x="482.0" y="879.3"/><use href="#mk" x="482.0" y="889.1"/><use href="#mk" x="481.9" y="856.7"/><use href="#mk" x="481.4" y="890.0"/><use href="#mk" x="481.3" y="884.7"/><use href="#mk" x="481.3" y="870.2"/><use href="#mk" x="481.3" y="877.7"/><use href="#mk" x="480.4" y="890.4"/><use href="#mk" x="480.0" y="885.1"/><use href="#mk" x="479.4" y="890.7"/><use href="#mk" x="478.4" y="887.9"/><use href="#mk" x="478.4" y="891.0"/><use href="#mk" x="478.1" y="843.4"/><use href="#mk" x="477.4" y="891.3"/><use href="#mk" x="476.8" y="879.9"/><use href="#mk" x="476.4" y="891.7"/><use href="#mk" x="476.2" y="890.1"/><use href="#mk" x="475.9" y="881.7"/><use href="#mk" x="475.4" y="892.0"/><use href="#mk" x="475.0" y="876.1"/><use href="#mk" x="474.9" y="884.5"/><use href="#mk" x="474.7" y="887.6"/><use href="#mk" x="474.6" y="872.1"/><use href="#mk" x="474.4" y="892.4"/><use href="#mk" x="473.8" y="887.2"/><use href="#mk" x="473.4" y="892.8"/><use href="#mk" x="472.4" y="893.1"/><use href="#mk" x="472.3" y="889.7"/><use href="#mk" x="471.8" y="881.7"/><use href="#mk" x="471.5" y="882.5"/><use href="#mk" x="471.4" y="893.5"/><use href="#mk" x="471.1" y="843.4"/><use href="#mk" x="470.8" y="892.2"/><use href="#mk" x="470.4" y="893.8"/><use href="#mk" x="469.6" y="891.3"/><use href="#mk" x="469.4" y="894.2"/><use href="#mk" x="468.4" y="894.6"/><use href="#mk" x="468.0" y="892.5"/><use href="#mk" x="467.9" y="874.8"/><use href="#mk" x="467.9" y="884.7"/><use href="#mk" x="467.4" y="895.0"/><use href="#mk" x="467.0" y="862.2"/><use href="#mk" x="466.8" y="874.2"/><use href="#mk" x="466.4" y="884.8"/><use href="#mk" x="466.4" y="895.4"/><use href="#mk" x="465.7" y="886.0"/><use href="#mk" x="465.4" y="895.8"/><use href="#mk" x="465.2" y="895.1"/><use href="#mk" x="464.5" y="869.4"/><use href="#mk" x="464.4" y="896.2"/><use href="#mk" x="463.8" y="882.2"/><use href="#mk" x="463.5" y="892.7"/><use href="#mk" x="463.5" y="895.9"/><use href="#mk" x="463.4" y="896.6"/><use href="#mk" x="463.3" y="893.0"/><use href="#mk" x="462.4" y="897.0"/><use href="#mk" x="461.4" y="897.4"/><use href="#mk" x="461.2" y="895.5"/><use href="#mk" x="461.1" y="886.9"/><use href="#mk" x="460.5" y="824.6"/><use href="#mk" x="460.4" y="897.8"/><use href="#mk" x="459.4" y="898.3"/><use href="#mk" x="458.4" y="898.8"/><use href="#mk" x="458.1" y="891.5"/><use href="#mk" x="457.8" y="882.2"/><use href="#mk" x="457.4" y="899.3"/><use href="#mk" x="457.1" y="875.5"/><use href="#mk" x="456.8" y="891.5"/><use href="#mk" x="456.5" y="875.5"/><use href="#mk" x="456.4" y="899.8"/><use href="#mk" x="456.3" y="891.0"/><use href="#mk" x="456.2" y="896.5"/><use href="#mk" x="456.0" y="886.7"/><use href="#mk" x="456.0" y="897.7"/><use href="#mk" x="455.6" y="893.6"/><use href="#mk" x="455.4" y="900.3"/><use href="#mk" x="454.4" y="862.2"/><use href="#mk" x="454.4" y="900.8"/><use href="#mk" x="454.3" y="893.0"/><use href="#mk" x="454.1" y="892.1"/><use href="#mk" x="453.4" y="901.3"/><use href="#mk" x="452.4" y="901.8"/><use href="#mk" x="452.2" y="891.6"/><use href="#mk" x="451.9" y="898.4"/><use href="#mk" x="451.4" y="902.4"/><use href="#mk" x="451.0" y="894.2"/><use href="#mk" x="450.6" y="900.0"/><use href="#mk" x="450.4" y="903.0"/><use href="#mk" x="449.8" y="892.7"/><use href="#mk" x="449.7" y="901.6"/><use href="#mk" x="449.7" y="862.2"/><use href="#mk" x="449.4" y="903.6"/><use href="#mk" x="449.4" y="902.5"/><use href="#mk" x="449.2" y="897.2"/><use href="#mk" x="448.6" y="903.7"/><use href="#mk" x="448.4" y="904.2"/><use href="#mk" x="448.2" y="896.0"/><use href="#mk" x="447.8" y="881.5"/><use href="#mk" x="447.7" y="896.1"/><use href="#mk" x="447.4" y="904.8"/><use href="#mk" x="447.2" y="904.2"/><use href="#mk" x="446.4" y="905.3"/><use href="#mk" x="446.0" y="897.5"/><use href="#mk" x="445.8" y="888.2"/><use href="#mk" x="445.8" y="896.0"/><use href="#mk" x="445.4" y="900.9"/><use href="#mk" x="445.4" y="905.9"/><use href="#mk" x="444.4" y="906.5"/><use href="#mk" x="443.7" y="843.0"/><use href="#mk" x="443.5" y="907.0"/><use href="#mk" x="443.4" y="907.1"/><use href="#mk" x="442.4" y="907.8"/><use href="#mk" x="441.8" y="901.4"/><use href="#mk" x="441.7" y="899.4"/><use href="#mk" x="441.4" y="908.6"/><use href="#mk" x="441.4" y="902.2"/><use href="#mk" x="441.1" y="893.6"/><use href="#mk" x="440.4" y="881.5"/><use href="#mk" x="440.4" y="909.4"/><use href="#mk" x="439.4" y="910.2"/><use href="#mk" x="438.8" y="908.3"/><use href="#mk" x="438.8" y="905.6"/><use href="#mk" x="438.5" y="902.5"/><use href="#mk" x="438.4" y="911.0"/><use href="#mk" x="437.5" y="910.7"/><use href="#mk" x="437.4" y="911.8"/><use href="#mk" x="436.4" y="881.5"/><use href="#mk" x="436.4" y="912.5"/><use href="#mk" x="436.3" y="907.3"/><use href="#mk" x="436.2" y="908.0"/><use href="#mk" x="435.4" y="913.3"/><use href="#mk" x="435.0" y="900.3"/><use href="#mk" x="435.0" y="907.4"/><use href="#mk" x="434.8" y="909.9"/><use href="#mk" x="434.4" y="914.1"/><use href="#mk" x="433.4" y="915.2"/><use href="#mk" x="433.0" y="862.5"/><use href="#mk" x="432.7" y="862.2"/><use href="#mk" x="432.5" y="914.6"/><use href="#mk" x="432.4" y="916.4"/><use href="#mk" x="431.4" y="917.5"/><use href="#mk" x="430.4" y="918.6"/><use href="#mk" x="430.3" y="912.8"/><use href="#mk" x="429.7" y="900.9"/><use href="#mk" x="429.6" y="916.6"/><use href="#mk" x="429.4" y="919.9"/><use href="#mk" x="428.8" y="920.4"/><use href="#mk" x="428.4" y="921.4"/><use href="#mk" x="428.3" y="916.3"/><use href="#mk" x="428.2" y="916.7"/><use href="#mk" x="428.1" y="919.7"/><use href="#mk" x="427.4" y="922.8"/><use href="#mk" x="427.0" y="919.0"/><use href="#mk" x="426.8" y="881.8"/><use href="#mk" x="426.8" y="922.7"/><use href="#mk" x="426.4" y="924.2"/><use href="#mk" x="426.1" y="922.3"/><use href="#mk" x="425.7" y="927.0"/><use href="#mk" x="425.4" y="925.7"/><use href="#mk" x="424.4" y="927.9"/><use href="#mk" x="423.4" y="930.0"/><use href="#mk" x="422.6" y="901.4"/><use href="#mk" x="422.4" y="932.2"/><use href="#mk" x="422.4" y="930.2"/><use href="#mk" x="421.4" y="934.4"/><use href="#mk" x="420.4" y="936.8"/><use href="#mk" x="420.3" y="935.8"/><use href="#mk" x="419.6" y="936.3"/><use href="#mk" x="419.4" y="949.2"/><use href="#mk" x="419.1" y="919.9"/><use href="#mk" x="418.3" y="938.6"/><use href="#mk" x="417.8" y="955.7"/><use href="#mk" x="417.6" y="938.4"/><use href="#mk" x="417.0" y="975.3"/><use href="#mk" x="415.9" y="787.2"/>
<line x1="404.0" y1="769.0" x2="414.5" y2="769.0" stroke="#000" stroke-width="2.6" />
<line x1="404.0" y1="814.7" x2="414.5" y2="814.7" stroke="#000" stroke-width="2.6" />
<line x1="404.0" y1="860.5" x2="414.5" y2="860.5" stroke="#000" stroke-width="2.6" />
<line x1="404.0" y1="906.2" x2="414.5" y2="906.2" stroke="#000" stroke-width="2.6" />
<line x1="404.0" y1="952.0" x2="414.5" y2="952.0" stroke="#000" stroke-width="2.6" />
<line x1="416.1" y1="997.7" x2="416.1" y2="987.2" stroke="#000" stroke-width="2.6" />
<line x1="465.5" y1="997.7" x2="465.5" y2="987.2" stroke="#000" stroke-width="2.6" />
<line x1="514.9" y1="997.7" x2="514.9" y2="987.2" stroke="#000" stroke-width="2.6" />
<line x1="564.3" y1="997.7" x2="564.3" y2="987.2" stroke="#000" stroke-width="2.6" />
<line x1="613.7" y1="997.7" x2="613.7" y2="987.2" stroke="#000" stroke-width="2.6" />
<line x1="663.1" y1="997.7" x2="663.1" y2="987.2" stroke="#000" stroke-width="2.6" />
<rect x="404.0" y="758.6" width="272.6" height="239.1" fill="none" stroke="#000" stroke-width="2.6"/>
<text x="392.0" y="779.0" text-anchor="end" font-size="28">10<tspan dx="0.5" dy="-11" font-size="20">0</tspan></text>
<text x="392.0" y="1008.0" text-anchor="end" font-size="28">10<tspan dx="0.5" dy="-10" font-size="20">-5</tspan></text>
<text transform="translate(416.1,1027.7) scale(1,1.04)" text-anchor="middle" font-size="28" >0</text>
<text x="664.4" y="1020.2" text-anchor="middle" font-size="22.5" font-style="italic" stroke="#000" stroke-width="0.6">π</text>
<line x1="657.1" y1="1023.9" x2="671.1" y2="1023.9" stroke="#000" stroke-width="1.4" />
<text x="664.1" y="1041.0" text-anchor="middle" font-size="21.5" >2</text>
<text x="471.8" y="1037.7" font-size="28">frequency, <tspan font-style="italic">ν</tspan></text>
<text x="540.9" y="925.5" text-anchor="middle" font-size="28" >drive</text>
<text x="0.0" y="0.0" text-anchor="middle" font-size="28" transform="translate(359.1,878.5) rotate(-90)">Fourier amplitude</text>
<text x="0.0" y="0.0" text-anchor="middle" font-size="28" transform="translate(387.2,878.5) rotate(-90)">(normalized)</text>
<text x="365.8" y="741.7" text-anchor="start" font-size="28" font-weight="bold" >d</text>
</svg></body></html>
